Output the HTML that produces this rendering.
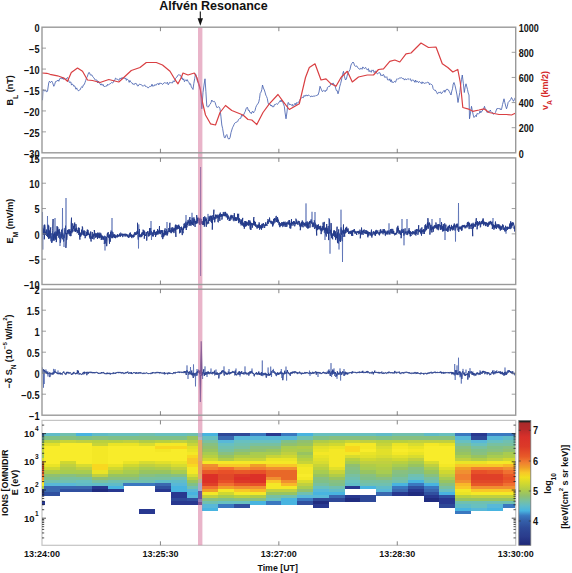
<!DOCTYPE html>
<html><head><meta charset="utf-8"><style>
html,body{margin:0;padding:0;background:#fff;width:572px;height:573px;overflow:hidden}
svg{display:block}
</style></head><body><svg width="572" height="573" viewBox="0 0 572 573" font-family='"Liberation Sans", sans-serif'><rect x="42.0" y="420.4" width="473.70000000000005" height="124.89999999999998" fill="none" stroke="#c4c4c4" stroke-width="1.2"/><g shape-rendering="crispEdges"><rect x="42.20" y="433.40" width="2.40" height="3.39" fill="#3a78c0"/><rect x="42.20" y="436.49" width="2.40" height="3.39" fill="#70c0b0"/><rect x="42.20" y="439.58" width="2.40" height="3.39" fill="#88c080"/><rect x="42.20" y="442.67" width="2.40" height="3.39" fill="#b0cc48"/><rect x="42.20" y="445.76" width="2.40" height="3.39" fill="#b8d040"/><rect x="42.20" y="448.85" width="2.40" height="3.39" fill="#c0d040"/><rect x="42.20" y="451.94" width="2.40" height="3.39" fill="#b0cc48"/><rect x="42.20" y="455.03" width="2.40" height="3.39" fill="#98c460"/><rect x="42.20" y="458.12" width="2.40" height="3.39" fill="#d8dc30"/><rect x="42.20" y="461.21" width="2.40" height="3.39" fill="#f09030"/><rect x="42.20" y="464.30" width="2.40" height="3.39" fill="#e86828"/><rect x="42.20" y="467.39" width="2.40" height="3.39" fill="#e85828"/><rect x="42.20" y="470.48" width="2.40" height="3.39" fill="#e85828"/><rect x="42.20" y="473.57" width="2.40" height="3.39" fill="#e86828"/><rect x="42.20" y="476.66" width="2.40" height="3.39" fill="#f09030"/><rect x="42.20" y="479.75" width="2.40" height="3.39" fill="#f8c828"/><rect x="42.20" y="482.84" width="2.40" height="3.39" fill="#f4e826"/><rect x="42.20" y="485.93" width="2.40" height="3.39" fill="#b0cc48"/><rect x="42.20" y="489.02" width="2.40" height="3.39" fill="#283890"/><rect x="42.20" y="492.11" width="2.40" height="3.39" fill="#283890"/><rect x="42.20" y="501.38" width="2.40" height="3.39" fill="#283890"/><rect x="44.30" y="433.40" width="16.10" height="3.39" fill="#60bcc8"/><rect x="44.30" y="436.49" width="16.10" height="3.39" fill="#80c088"/><rect x="44.30" y="439.58" width="16.10" height="3.39" fill="#b8d040"/><rect x="44.30" y="442.67" width="16.10" height="3.39" fill="#e2e02a"/><rect x="44.30" y="445.76" width="16.10" height="3.39" fill="#f8ec2a"/><rect x="44.30" y="448.85" width="16.10" height="3.39" fill="#f8ec2a"/><rect x="44.30" y="451.94" width="16.10" height="3.39" fill="#f8ec2a"/><rect x="44.30" y="455.03" width="16.10" height="3.39" fill="#f8ec2a"/><rect x="44.30" y="458.12" width="16.10" height="3.39" fill="#f8ec2a"/><rect x="44.30" y="461.21" width="16.10" height="3.39" fill="#f8ec2a"/><rect x="44.30" y="464.30" width="16.10" height="3.39" fill="#eae426"/><rect x="44.30" y="467.39" width="16.10" height="3.39" fill="#d0d830"/><rect x="44.30" y="470.48" width="16.10" height="3.39" fill="#b0cc48"/><rect x="44.30" y="473.57" width="16.10" height="3.39" fill="#90c070"/><rect x="44.30" y="476.66" width="16.10" height="3.39" fill="#80c088"/><rect x="44.30" y="479.75" width="16.10" height="3.39" fill="#70c0b0"/><rect x="44.30" y="482.84" width="16.10" height="3.39" fill="#58b8d8"/><rect x="44.30" y="485.93" width="16.10" height="3.39" fill="#3a68b0"/><rect x="44.30" y="489.02" width="16.10" height="3.39" fill="#3a68b0"/><rect x="44.30" y="492.11" width="16.10" height="3.39" fill="#3050a0"/><rect x="60.10" y="433.40" width="16.10" height="3.39" fill="#70c0b0"/><rect x="60.10" y="436.49" width="16.10" height="3.39" fill="#88c080"/><rect x="60.10" y="439.58" width="16.10" height="3.39" fill="#c8d438"/><rect x="60.10" y="442.67" width="16.10" height="3.39" fill="#f8ec2a"/><rect x="60.10" y="445.76" width="16.10" height="3.39" fill="#f8ec2a"/><rect x="60.10" y="448.85" width="16.10" height="3.39" fill="#f8ec2a"/><rect x="60.10" y="451.94" width="16.10" height="3.39" fill="#f8ec2a"/><rect x="60.10" y="455.03" width="16.10" height="3.39" fill="#f8ec2a"/><rect x="60.10" y="458.12" width="16.10" height="3.39" fill="#f8ec2a"/><rect x="60.10" y="461.21" width="16.10" height="3.39" fill="#d0d830"/><rect x="60.10" y="464.30" width="16.10" height="3.39" fill="#c0d040"/><rect x="60.10" y="467.39" width="16.10" height="3.39" fill="#b0cc48"/><rect x="60.10" y="470.48" width="16.10" height="3.39" fill="#a8cc50"/><rect x="60.10" y="473.57" width="16.10" height="3.39" fill="#88c080"/><rect x="60.10" y="476.66" width="16.10" height="3.39" fill="#78c0a0"/><rect x="60.10" y="479.75" width="16.10" height="3.39" fill="#70c0b0"/><rect x="60.10" y="482.84" width="16.10" height="3.39" fill="#58b8d8"/><rect x="60.10" y="485.93" width="16.10" height="3.39" fill="#3a68b0"/><rect x="60.10" y="489.02" width="16.10" height="3.39" fill="#3050a0"/><rect x="75.90" y="433.40" width="16.10" height="3.39" fill="#48b4e0"/><rect x="75.90" y="436.49" width="16.10" height="3.39" fill="#80c088"/><rect x="75.90" y="439.58" width="16.10" height="3.39" fill="#c0d040"/><rect x="75.90" y="442.67" width="16.10" height="3.39" fill="#f8ec2a"/><rect x="75.90" y="445.76" width="16.10" height="3.39" fill="#f8ec2a"/><rect x="75.90" y="448.85" width="16.10" height="3.39" fill="#f8ec2a"/><rect x="75.90" y="451.94" width="16.10" height="3.39" fill="#f8ec2a"/><rect x="75.90" y="455.03" width="16.10" height="3.39" fill="#f8ec2a"/><rect x="75.90" y="458.12" width="16.10" height="3.39" fill="#f8ec2a"/><rect x="75.90" y="461.21" width="16.10" height="3.39" fill="#f8ec2a"/><rect x="75.90" y="464.30" width="16.10" height="3.39" fill="#d8dc30"/><rect x="75.90" y="467.39" width="16.10" height="3.39" fill="#c0d040"/><rect x="75.90" y="470.48" width="16.10" height="3.39" fill="#a8cc50"/><rect x="75.90" y="473.57" width="16.10" height="3.39" fill="#90c070"/><rect x="75.90" y="476.66" width="16.10" height="3.39" fill="#78c0a0"/><rect x="75.90" y="479.75" width="16.10" height="3.39" fill="#68c0c0"/><rect x="75.90" y="482.84" width="16.10" height="3.39" fill="#60bcc8"/><rect x="75.90" y="485.93" width="16.10" height="3.39" fill="#3a68b0"/><rect x="75.90" y="489.02" width="16.10" height="3.39" fill="#3050a0"/><rect x="91.70" y="433.40" width="16.10" height="3.39" fill="#60bcc8"/><rect x="91.70" y="436.49" width="16.10" height="3.39" fill="#88c080"/><rect x="91.70" y="439.58" width="16.10" height="3.39" fill="#b8d040"/><rect x="91.70" y="442.67" width="16.10" height="3.39" fill="#c8d438"/><rect x="91.70" y="445.76" width="16.10" height="3.39" fill="#f4e826"/><rect x="91.70" y="448.85" width="16.10" height="3.39" fill="#f4e826"/><rect x="91.70" y="451.94" width="16.10" height="3.39" fill="#f4e826"/><rect x="91.70" y="455.03" width="16.10" height="3.39" fill="#f4e826"/><rect x="91.70" y="458.12" width="16.10" height="3.39" fill="#f4e826"/><rect x="91.70" y="461.21" width="16.10" height="3.39" fill="#f4e826"/><rect x="91.70" y="464.30" width="16.10" height="3.39" fill="#f8d820"/><rect x="91.70" y="467.39" width="16.10" height="3.39" fill="#f8d820"/><rect x="91.70" y="470.48" width="16.10" height="3.39" fill="#eae426"/><rect x="91.70" y="473.57" width="16.10" height="3.39" fill="#c0d040"/><rect x="91.70" y="476.66" width="16.10" height="3.39" fill="#90c070"/><rect x="91.70" y="479.75" width="16.10" height="3.39" fill="#78c0a0"/><rect x="91.70" y="482.84" width="16.10" height="3.39" fill="#60bcc8"/><rect x="91.70" y="485.93" width="16.10" height="3.39" fill="#283890"/><rect x="91.70" y="489.02" width="16.10" height="3.39" fill="#202c80"/><rect x="107.50" y="433.40" width="16.10" height="3.39" fill="#68c0c0"/><rect x="107.50" y="436.49" width="16.10" height="3.39" fill="#80c088"/><rect x="107.50" y="439.58" width="16.10" height="3.39" fill="#b8d040"/><rect x="107.50" y="442.67" width="16.10" height="3.39" fill="#eae426"/><rect x="107.50" y="445.76" width="16.10" height="3.39" fill="#f8ec2a"/><rect x="107.50" y="448.85" width="16.10" height="3.39" fill="#f8ec2a"/><rect x="107.50" y="451.94" width="16.10" height="3.39" fill="#f8ec2a"/><rect x="107.50" y="455.03" width="16.10" height="3.39" fill="#f8ec2a"/><rect x="107.50" y="458.12" width="16.10" height="3.39" fill="#f8ec2a"/><rect x="107.50" y="461.21" width="16.10" height="3.39" fill="#f8ec2a"/><rect x="107.50" y="464.30" width="16.10" height="3.39" fill="#eae426"/><rect x="107.50" y="467.39" width="16.10" height="3.39" fill="#d0d830"/><rect x="107.50" y="470.48" width="16.10" height="3.39" fill="#b8d040"/><rect x="107.50" y="473.57" width="16.10" height="3.39" fill="#98c460"/><rect x="107.50" y="476.66" width="16.10" height="3.39" fill="#88c080"/><rect x="107.50" y="479.75" width="16.10" height="3.39" fill="#70c0b0"/><rect x="107.50" y="482.84" width="16.10" height="3.39" fill="#60bcc8"/><rect x="107.50" y="485.93" width="16.10" height="3.39" fill="#48b4e0"/><rect x="107.50" y="489.02" width="16.10" height="3.39" fill="#283890"/><rect x="123.30" y="433.40" width="16.10" height="3.39" fill="#68c0c0"/><rect x="123.30" y="436.49" width="16.10" height="3.39" fill="#80c088"/><rect x="123.30" y="439.58" width="16.10" height="3.39" fill="#c0d040"/><rect x="123.30" y="442.67" width="16.10" height="3.39" fill="#eae426"/><rect x="123.30" y="445.76" width="16.10" height="3.39" fill="#f8ec2a"/><rect x="123.30" y="448.85" width="16.10" height="3.39" fill="#f8ec2a"/><rect x="123.30" y="451.94" width="16.10" height="3.39" fill="#f8ec2a"/><rect x="123.30" y="455.03" width="16.10" height="3.39" fill="#f8ec2a"/><rect x="123.30" y="458.12" width="16.10" height="3.39" fill="#f8ec2a"/><rect x="123.30" y="461.21" width="16.10" height="3.39" fill="#eae426"/><rect x="123.30" y="464.30" width="16.10" height="3.39" fill="#d0d830"/><rect x="123.30" y="467.39" width="16.10" height="3.39" fill="#b8d040"/><rect x="123.30" y="470.48" width="16.10" height="3.39" fill="#a8cc50"/><rect x="123.30" y="473.57" width="16.10" height="3.39" fill="#98c460"/><rect x="123.30" y="476.66" width="16.10" height="3.39" fill="#88c080"/><rect x="123.30" y="479.75" width="16.10" height="3.39" fill="#70c0b0"/><rect x="123.30" y="482.84" width="16.10" height="3.39" fill="#3a78c0"/><rect x="139.10" y="433.40" width="16.10" height="3.39" fill="#70c0b0"/><rect x="139.10" y="436.49" width="16.10" height="3.39" fill="#80c088"/><rect x="139.10" y="439.58" width="16.10" height="3.39" fill="#b0cc48"/><rect x="139.10" y="442.67" width="16.10" height="3.39" fill="#d8dc30"/><rect x="139.10" y="445.76" width="16.10" height="3.39" fill="#f8ec2a"/><rect x="139.10" y="448.85" width="16.10" height="3.39" fill="#f8ec2a"/><rect x="139.10" y="451.94" width="16.10" height="3.39" fill="#f8ec2a"/><rect x="139.10" y="455.03" width="16.10" height="3.39" fill="#f8ec2a"/><rect x="139.10" y="458.12" width="16.10" height="3.39" fill="#f8ec2a"/><rect x="139.10" y="461.21" width="16.10" height="3.39" fill="#d8dc30"/><rect x="139.10" y="464.30" width="16.10" height="3.39" fill="#c0d040"/><rect x="139.10" y="467.39" width="16.10" height="3.39" fill="#a8cc50"/><rect x="139.10" y="470.48" width="16.10" height="3.39" fill="#98c460"/><rect x="139.10" y="473.57" width="16.10" height="3.39" fill="#88c080"/><rect x="139.10" y="476.66" width="16.10" height="3.39" fill="#78c0a0"/><rect x="139.10" y="479.75" width="16.10" height="3.39" fill="#70c0b0"/><rect x="139.10" y="482.84" width="16.10" height="3.39" fill="#3a78c0"/><rect x="154.90" y="433.40" width="16.10" height="3.39" fill="#68c0c0"/><rect x="154.90" y="436.49" width="16.10" height="3.39" fill="#80c088"/><rect x="154.90" y="439.58" width="16.10" height="3.39" fill="#b8d040"/><rect x="154.90" y="442.67" width="16.10" height="3.39" fill="#f4e826"/><rect x="154.90" y="445.76" width="16.10" height="3.39" fill="#f8d820"/><rect x="154.90" y="448.85" width="16.10" height="3.39" fill="#f4e826"/><rect x="154.90" y="451.94" width="16.10" height="3.39" fill="#f8ec2a"/><rect x="154.90" y="455.03" width="16.10" height="3.39" fill="#f8ec2a"/><rect x="154.90" y="458.12" width="16.10" height="3.39" fill="#f8ec2a"/><rect x="154.90" y="461.21" width="16.10" height="3.39" fill="#e2e02a"/><rect x="154.90" y="464.30" width="16.10" height="3.39" fill="#c8d438"/><rect x="154.90" y="467.39" width="16.10" height="3.39" fill="#b0cc48"/><rect x="154.90" y="470.48" width="16.10" height="3.39" fill="#98c460"/><rect x="154.90" y="473.57" width="16.10" height="3.39" fill="#80c088"/><rect x="154.90" y="476.66" width="16.10" height="3.39" fill="#78c0a0"/><rect x="154.90" y="479.75" width="16.10" height="3.39" fill="#60bcc8"/><rect x="154.90" y="482.84" width="16.10" height="3.39" fill="#3a68b0"/><rect x="154.90" y="485.93" width="16.10" height="3.39" fill="#3050a0"/><rect x="154.90" y="489.02" width="16.10" height="3.39" fill="#283890"/><rect x="170.70" y="433.40" width="16.10" height="3.39" fill="#68c0c0"/><rect x="170.70" y="436.49" width="16.10" height="3.39" fill="#80c088"/><rect x="170.70" y="439.58" width="16.10" height="3.39" fill="#c0d040"/><rect x="170.70" y="442.67" width="16.10" height="3.39" fill="#f4e826"/><rect x="170.70" y="445.76" width="16.10" height="3.39" fill="#f8d820"/><rect x="170.70" y="448.85" width="16.10" height="3.39" fill="#f8ec2a"/><rect x="170.70" y="451.94" width="16.10" height="3.39" fill="#f8ec2a"/><rect x="170.70" y="455.03" width="16.10" height="3.39" fill="#f8ec2a"/><rect x="170.70" y="458.12" width="16.10" height="3.39" fill="#f8ec2a"/><rect x="170.70" y="461.21" width="16.10" height="3.39" fill="#eae426"/><rect x="170.70" y="464.30" width="16.10" height="3.39" fill="#d8dc30"/><rect x="170.70" y="467.39" width="16.10" height="3.39" fill="#c0d040"/><rect x="170.70" y="470.48" width="16.10" height="3.39" fill="#a8cc50"/><rect x="170.70" y="473.57" width="16.10" height="3.39" fill="#88c080"/><rect x="170.70" y="476.66" width="16.10" height="3.39" fill="#70c0b0"/><rect x="170.70" y="479.75" width="16.10" height="3.39" fill="#60bcc8"/><rect x="170.70" y="482.84" width="16.10" height="3.39" fill="#58b8d8"/><rect x="170.70" y="485.93" width="16.10" height="3.39" fill="#48b4e0"/><rect x="170.70" y="489.02" width="16.10" height="3.39" fill="#48b4e0"/><rect x="170.70" y="492.11" width="16.10" height="3.39" fill="#283890"/><rect x="170.70" y="495.20" width="16.10" height="3.39" fill="#283890"/><rect x="170.70" y="498.29" width="16.10" height="3.39" fill="#2e4898"/><rect x="170.70" y="501.38" width="16.10" height="3.39" fill="#283890"/><rect x="186.50" y="433.40" width="16.10" height="3.39" fill="#70c0b0"/><rect x="186.50" y="436.49" width="16.10" height="3.39" fill="#98c460"/><rect x="186.50" y="439.58" width="16.10" height="3.39" fill="#b0cc48"/><rect x="186.50" y="442.67" width="16.10" height="3.39" fill="#c8d438"/><rect x="186.50" y="445.76" width="16.10" height="3.39" fill="#e2e02a"/><rect x="186.50" y="448.85" width="16.10" height="3.39" fill="#eae426"/><rect x="186.50" y="451.94" width="16.10" height="3.39" fill="#f4e826"/><rect x="186.50" y="455.03" width="16.10" height="3.39" fill="#f8d820"/><rect x="186.50" y="458.12" width="16.10" height="3.39" fill="#f8c828"/><rect x="186.50" y="461.21" width="16.10" height="3.39" fill="#f8c828"/><rect x="186.50" y="464.30" width="16.10" height="3.39" fill="#f8d820"/><rect x="186.50" y="467.39" width="16.10" height="3.39" fill="#f4e826"/><rect x="186.50" y="470.48" width="16.10" height="3.39" fill="#f4e826"/><rect x="186.50" y="473.57" width="16.10" height="3.39" fill="#d8dc30"/><rect x="186.50" y="476.66" width="16.10" height="3.39" fill="#b8d040"/><rect x="186.50" y="479.75" width="16.10" height="3.39" fill="#98c460"/><rect x="186.50" y="482.84" width="16.10" height="3.39" fill="#80c088"/><rect x="186.50" y="485.93" width="16.10" height="3.39" fill="#70c0b0"/><rect x="186.50" y="489.02" width="16.10" height="3.39" fill="#58b8d8"/><rect x="186.50" y="492.11" width="16.10" height="3.39" fill="#48b4e0"/><rect x="186.50" y="495.20" width="16.10" height="3.39" fill="#58b8d8"/><rect x="186.50" y="498.29" width="16.10" height="3.39" fill="#3050a0"/><rect x="186.50" y="501.38" width="16.10" height="3.39" fill="#283890"/><rect x="202.30" y="433.40" width="16.10" height="3.39" fill="#48b4e0"/><rect x="202.30" y="436.49" width="16.10" height="3.39" fill="#68c0c0"/><rect x="202.30" y="439.58" width="16.10" height="3.39" fill="#78c0a0"/><rect x="202.30" y="442.67" width="16.10" height="3.39" fill="#88c080"/><rect x="202.30" y="445.76" width="16.10" height="3.39" fill="#90c070"/><rect x="202.30" y="448.85" width="16.10" height="3.39" fill="#98c460"/><rect x="202.30" y="451.94" width="16.10" height="3.39" fill="#a8cc50"/><rect x="202.30" y="455.03" width="16.10" height="3.39" fill="#b8d040"/><rect x="202.30" y="458.12" width="16.10" height="3.39" fill="#d0d830"/><rect x="202.30" y="461.21" width="16.10" height="3.39" fill="#f4e826"/><rect x="202.30" y="464.30" width="16.10" height="3.39" fill="#f09030"/><rect x="202.30" y="467.39" width="16.10" height="3.39" fill="#f08030"/><rect x="202.30" y="470.48" width="16.10" height="3.39" fill="#e85828"/><rect x="202.30" y="473.57" width="16.10" height="3.39" fill="#dc3028"/><rect x="202.30" y="476.66" width="16.10" height="3.39" fill="#dc3028"/><rect x="202.30" y="479.75" width="16.10" height="3.39" fill="#dc3028"/><rect x="202.30" y="482.84" width="16.10" height="3.39" fill="#e04028"/><rect x="202.30" y="485.93" width="16.10" height="3.39" fill="#f07030"/><rect x="202.30" y="489.02" width="16.10" height="3.39" fill="#f0a028"/><rect x="202.30" y="492.11" width="16.10" height="3.39" fill="#f4e826"/><rect x="202.30" y="495.20" width="16.10" height="3.39" fill="#c0d040"/><rect x="202.30" y="498.29" width="16.10" height="3.39" fill="#88c080"/><rect x="202.30" y="501.38" width="16.10" height="3.39" fill="#70c0b0"/><rect x="202.30" y="504.47" width="16.10" height="3.39" fill="#58b8d8"/><rect x="202.30" y="507.56" width="16.10" height="3.39" fill="#48b4e0"/><rect x="218.10" y="433.40" width="16.10" height="3.39" fill="#2e4898"/><rect x="218.10" y="436.49" width="16.10" height="3.39" fill="#3a68b0"/><rect x="218.10" y="439.58" width="16.10" height="3.39" fill="#58b8d8"/><rect x="218.10" y="442.67" width="16.10" height="3.39" fill="#68c0c0"/><rect x="218.10" y="445.76" width="16.10" height="3.39" fill="#70c0b0"/><rect x="218.10" y="448.85" width="16.10" height="3.39" fill="#78c0a0"/><rect x="218.10" y="451.94" width="16.10" height="3.39" fill="#88c080"/><rect x="218.10" y="455.03" width="16.10" height="3.39" fill="#98c460"/><rect x="218.10" y="458.12" width="16.10" height="3.39" fill="#b0cc48"/><rect x="218.10" y="461.21" width="16.10" height="3.39" fill="#f4e826"/><rect x="218.10" y="464.30" width="16.10" height="3.39" fill="#f8c828"/><rect x="218.10" y="467.39" width="16.10" height="3.39" fill="#f07030"/><rect x="218.10" y="470.48" width="16.10" height="3.39" fill="#e85028"/><rect x="218.10" y="473.57" width="16.10" height="3.39" fill="#e04828"/><rect x="218.10" y="476.66" width="16.10" height="3.39" fill="#e04828"/><rect x="218.10" y="479.75" width="16.10" height="3.39" fill="#e85028"/><rect x="218.10" y="482.84" width="16.10" height="3.39" fill="#f07030"/><rect x="218.10" y="485.93" width="16.10" height="3.39" fill="#f0a028"/><rect x="218.10" y="489.02" width="16.10" height="3.39" fill="#f4e826"/><rect x="218.10" y="492.11" width="16.10" height="3.39" fill="#d0d830"/><rect x="218.10" y="495.20" width="16.10" height="3.39" fill="#a8cc50"/><rect x="218.10" y="498.29" width="16.10" height="3.39" fill="#80c088"/><rect x="218.10" y="501.38" width="16.10" height="3.39" fill="#68c0c0"/><rect x="218.10" y="504.47" width="16.10" height="3.39" fill="#3a78c0"/><rect x="233.90" y="433.40" width="16.10" height="3.39" fill="#2e4898"/><rect x="233.90" y="436.49" width="16.10" height="3.39" fill="#58b8d8"/><rect x="233.90" y="439.58" width="16.10" height="3.39" fill="#68c0c0"/><rect x="233.90" y="442.67" width="16.10" height="3.39" fill="#70c0b0"/><rect x="233.90" y="445.76" width="16.10" height="3.39" fill="#78c0a0"/><rect x="233.90" y="448.85" width="16.10" height="3.39" fill="#88c080"/><rect x="233.90" y="451.94" width="16.10" height="3.39" fill="#98c460"/><rect x="233.90" y="455.03" width="16.10" height="3.39" fill="#b0cc48"/><rect x="233.90" y="458.12" width="16.10" height="3.39" fill="#c8d438"/><rect x="233.90" y="461.21" width="16.10" height="3.39" fill="#f4e826"/><rect x="233.90" y="464.30" width="16.10" height="3.39" fill="#f8c828"/><rect x="233.90" y="467.39" width="16.10" height="3.39" fill="#f09030"/><rect x="233.90" y="470.48" width="16.10" height="3.39" fill="#e85828"/><rect x="233.90" y="473.57" width="16.10" height="3.39" fill="#dc3828"/><rect x="233.90" y="476.66" width="16.10" height="3.39" fill="#dc3028"/><rect x="233.90" y="479.75" width="16.10" height="3.39" fill="#dc3828"/><rect x="233.90" y="482.84" width="16.10" height="3.39" fill="#e85828"/><rect x="233.90" y="485.93" width="16.10" height="3.39" fill="#f09030"/><rect x="233.90" y="489.02" width="16.10" height="3.39" fill="#f8c828"/><rect x="233.90" y="492.11" width="16.10" height="3.39" fill="#f4e826"/><rect x="233.90" y="495.20" width="16.10" height="3.39" fill="#b8d040"/><rect x="233.90" y="498.29" width="16.10" height="3.39" fill="#88c080"/><rect x="233.90" y="501.38" width="16.10" height="3.39" fill="#68c0c0"/><rect x="233.90" y="504.47" width="16.10" height="3.39" fill="#3050a0"/><rect x="249.70" y="433.40" width="16.10" height="3.39" fill="#3a78c0"/><rect x="249.70" y="436.49" width="16.10" height="3.39" fill="#58b8d8"/><rect x="249.70" y="439.58" width="16.10" height="3.39" fill="#68c0c0"/><rect x="249.70" y="442.67" width="16.10" height="3.39" fill="#78c0a0"/><rect x="249.70" y="445.76" width="16.10" height="3.39" fill="#88c080"/><rect x="249.70" y="448.85" width="16.10" height="3.39" fill="#90c070"/><rect x="249.70" y="451.94" width="16.10" height="3.39" fill="#a8cc50"/><rect x="249.70" y="455.03" width="16.10" height="3.39" fill="#b0cc48"/><rect x="249.70" y="458.12" width="16.10" height="3.39" fill="#c8d438"/><rect x="249.70" y="461.21" width="16.10" height="3.39" fill="#f4e826"/><rect x="249.70" y="464.30" width="16.10" height="3.39" fill="#f0a028"/><rect x="249.70" y="467.39" width="16.10" height="3.39" fill="#f08030"/><rect x="249.70" y="470.48" width="16.10" height="3.39" fill="#e85028"/><rect x="249.70" y="473.57" width="16.10" height="3.39" fill="#dc3028"/><rect x="249.70" y="476.66" width="16.10" height="3.39" fill="#dc3028"/><rect x="249.70" y="479.75" width="16.10" height="3.39" fill="#dc3028"/><rect x="249.70" y="482.84" width="16.10" height="3.39" fill="#e85028"/><rect x="249.70" y="485.93" width="16.10" height="3.39" fill="#f09030"/><rect x="249.70" y="489.02" width="16.10" height="3.39" fill="#f8b828"/><rect x="249.70" y="492.11" width="16.10" height="3.39" fill="#f4e826"/><rect x="249.70" y="495.20" width="16.10" height="3.39" fill="#b0cc48"/><rect x="249.70" y="498.29" width="16.10" height="3.39" fill="#88c080"/><rect x="249.70" y="501.38" width="16.10" height="3.39" fill="#48b4e0"/><rect x="265.50" y="433.40" width="16.10" height="3.39" fill="#283890"/><rect x="265.50" y="436.49" width="16.10" height="3.39" fill="#58b8d8"/><rect x="265.50" y="439.58" width="16.10" height="3.39" fill="#68c0c0"/><rect x="265.50" y="442.67" width="16.10" height="3.39" fill="#78c0a0"/><rect x="265.50" y="445.76" width="16.10" height="3.39" fill="#88c080"/><rect x="265.50" y="448.85" width="16.10" height="3.39" fill="#98c460"/><rect x="265.50" y="451.94" width="16.10" height="3.39" fill="#a8cc50"/><rect x="265.50" y="455.03" width="16.10" height="3.39" fill="#c8d438"/><rect x="265.50" y="458.12" width="16.10" height="3.39" fill="#eae426"/><rect x="265.50" y="461.21" width="16.10" height="3.39" fill="#f4e826"/><rect x="265.50" y="464.30" width="16.10" height="3.39" fill="#f8c828"/><rect x="265.50" y="467.39" width="16.10" height="3.39" fill="#f09030"/><rect x="265.50" y="470.48" width="16.10" height="3.39" fill="#e86828"/><rect x="265.50" y="473.57" width="16.10" height="3.39" fill="#e86828"/><rect x="265.50" y="476.66" width="16.10" height="3.39" fill="#f09030"/><rect x="265.50" y="479.75" width="16.10" height="3.39" fill="#f8c828"/><rect x="265.50" y="482.84" width="16.10" height="3.39" fill="#f4e826"/><rect x="265.50" y="485.93" width="16.10" height="3.39" fill="#f4e826"/><rect x="265.50" y="489.02" width="16.10" height="3.39" fill="#c0d040"/><rect x="265.50" y="492.11" width="16.10" height="3.39" fill="#98c460"/><rect x="265.50" y="495.20" width="16.10" height="3.39" fill="#78c0a0"/><rect x="265.50" y="498.29" width="16.10" height="3.39" fill="#68c0c0"/><rect x="265.50" y="501.38" width="16.10" height="3.39" fill="#3a78c0"/><rect x="281.30" y="433.40" width="16.10" height="3.39" fill="#3a78c0"/><rect x="281.30" y="436.49" width="16.10" height="3.39" fill="#58b8d8"/><rect x="281.30" y="439.58" width="16.10" height="3.39" fill="#80c088"/><rect x="281.30" y="442.67" width="16.10" height="3.39" fill="#90c070"/><rect x="281.30" y="445.76" width="16.10" height="3.39" fill="#a8cc50"/><rect x="281.30" y="448.85" width="16.10" height="3.39" fill="#b0cc48"/><rect x="281.30" y="451.94" width="16.10" height="3.39" fill="#c0d040"/><rect x="281.30" y="455.03" width="16.10" height="3.39" fill="#d0d830"/><rect x="281.30" y="458.12" width="16.10" height="3.39" fill="#eae426"/><rect x="281.30" y="461.21" width="16.10" height="3.39" fill="#f4e826"/><rect x="281.30" y="464.30" width="16.10" height="3.39" fill="#f8c828"/><rect x="281.30" y="467.39" width="16.10" height="3.39" fill="#f09030"/><rect x="281.30" y="470.48" width="16.10" height="3.39" fill="#e86828"/><rect x="281.30" y="473.57" width="16.10" height="3.39" fill="#e86828"/><rect x="281.30" y="476.66" width="16.10" height="3.39" fill="#e86828"/><rect x="281.30" y="479.75" width="16.10" height="3.39" fill="#f09030"/><rect x="281.30" y="482.84" width="16.10" height="3.39" fill="#f8b828"/><rect x="281.30" y="485.93" width="16.10" height="3.39" fill="#f4e826"/><rect x="281.30" y="489.02" width="16.10" height="3.39" fill="#c0d040"/><rect x="281.30" y="492.11" width="16.10" height="3.39" fill="#98c460"/><rect x="281.30" y="495.20" width="16.10" height="3.39" fill="#70c0b0"/><rect x="281.30" y="498.29" width="16.10" height="3.39" fill="#48b4e0"/><rect x="281.30" y="501.38" width="16.10" height="3.39" fill="#48b4e0"/><rect x="297.10" y="433.40" width="16.10" height="3.39" fill="#48b4e0"/><rect x="297.10" y="436.49" width="16.10" height="3.39" fill="#70c0b0"/><rect x="297.10" y="439.58" width="16.10" height="3.39" fill="#90c070"/><rect x="297.10" y="442.67" width="16.10" height="3.39" fill="#98c460"/><rect x="297.10" y="445.76" width="16.10" height="3.39" fill="#b0cc48"/><rect x="297.10" y="448.85" width="16.10" height="3.39" fill="#a8cc50"/><rect x="297.10" y="451.94" width="16.10" height="3.39" fill="#98c460"/><rect x="297.10" y="455.03" width="16.10" height="3.39" fill="#a8cc50"/><rect x="297.10" y="458.12" width="16.10" height="3.39" fill="#b8d040"/><rect x="297.10" y="461.21" width="16.10" height="3.39" fill="#c8d438"/><rect x="297.10" y="464.30" width="16.10" height="3.39" fill="#eae426"/><rect x="297.10" y="467.39" width="16.10" height="3.39" fill="#f4e826"/><rect x="297.10" y="470.48" width="16.10" height="3.39" fill="#f4e826"/><rect x="297.10" y="473.57" width="16.10" height="3.39" fill="#f8ec2a"/><rect x="297.10" y="476.66" width="16.10" height="3.39" fill="#f4e826"/><rect x="297.10" y="479.75" width="16.10" height="3.39" fill="#d8dc30"/><rect x="297.10" y="482.84" width="16.10" height="3.39" fill="#c0d040"/><rect x="297.10" y="485.93" width="16.10" height="3.39" fill="#a8cc50"/><rect x="297.10" y="489.02" width="16.10" height="3.39" fill="#90c070"/><rect x="297.10" y="492.11" width="16.10" height="3.39" fill="#70c0b0"/><rect x="297.10" y="495.20" width="16.10" height="3.39" fill="#58b8d8"/><rect x="297.10" y="498.29" width="16.10" height="3.39" fill="#3a78c0"/><rect x="297.10" y="501.38" width="16.10" height="3.39" fill="#3050a0"/><rect x="312.90" y="433.40" width="16.10" height="3.39" fill="#68c0c0"/><rect x="312.90" y="436.49" width="16.10" height="3.39" fill="#80c088"/><rect x="312.90" y="439.58" width="16.10" height="3.39" fill="#b0cc48"/><rect x="312.90" y="442.67" width="16.10" height="3.39" fill="#c8d438"/><rect x="312.90" y="445.76" width="16.10" height="3.39" fill="#e2e02a"/><rect x="312.90" y="448.85" width="16.10" height="3.39" fill="#eae426"/><rect x="312.90" y="451.94" width="16.10" height="3.39" fill="#f4e826"/><rect x="312.90" y="455.03" width="16.10" height="3.39" fill="#eae426"/><rect x="312.90" y="458.12" width="16.10" height="3.39" fill="#e2e02a"/><rect x="312.90" y="461.21" width="16.10" height="3.39" fill="#d8dc30"/><rect x="312.90" y="464.30" width="16.10" height="3.39" fill="#c8d438"/><rect x="312.90" y="467.39" width="16.10" height="3.39" fill="#b8d040"/><rect x="312.90" y="470.48" width="16.10" height="3.39" fill="#a8cc50"/><rect x="312.90" y="473.57" width="16.10" height="3.39" fill="#98c460"/><rect x="312.90" y="476.66" width="16.10" height="3.39" fill="#88c080"/><rect x="312.90" y="479.75" width="16.10" height="3.39" fill="#80c088"/><rect x="312.90" y="482.84" width="16.10" height="3.39" fill="#78c0a0"/><rect x="312.90" y="485.93" width="16.10" height="3.39" fill="#68c0c0"/><rect x="312.90" y="489.02" width="16.10" height="3.39" fill="#58b8d8"/><rect x="312.90" y="492.11" width="16.10" height="3.39" fill="#48b4e0"/><rect x="312.90" y="495.20" width="16.10" height="3.39" fill="#58b8d8"/><rect x="312.90" y="498.29" width="16.10" height="3.39" fill="#2e4898"/><rect x="312.90" y="501.38" width="16.10" height="3.39" fill="#202c80"/><rect x="312.90" y="504.47" width="16.10" height="3.39" fill="#283890"/><rect x="328.70" y="433.40" width="16.10" height="3.39" fill="#68c0c0"/><rect x="328.70" y="436.49" width="16.10" height="3.39" fill="#88c080"/><rect x="328.70" y="439.58" width="16.10" height="3.39" fill="#b8d040"/><rect x="328.70" y="442.67" width="16.10" height="3.39" fill="#d0d830"/><rect x="328.70" y="445.76" width="16.10" height="3.39" fill="#eae426"/><rect x="328.70" y="448.85" width="16.10" height="3.39" fill="#f4e826"/><rect x="328.70" y="451.94" width="16.10" height="3.39" fill="#f4e826"/><rect x="328.70" y="455.03" width="16.10" height="3.39" fill="#f4e826"/><rect x="328.70" y="458.12" width="16.10" height="3.39" fill="#f4e826"/><rect x="328.70" y="461.21" width="16.10" height="3.39" fill="#f4e826"/><rect x="328.70" y="464.30" width="16.10" height="3.39" fill="#f4e826"/><rect x="328.70" y="467.39" width="16.10" height="3.39" fill="#e2e02a"/><rect x="328.70" y="470.48" width="16.10" height="3.39" fill="#c8d438"/><rect x="328.70" y="473.57" width="16.10" height="3.39" fill="#b0cc48"/><rect x="328.70" y="476.66" width="16.10" height="3.39" fill="#98c460"/><rect x="328.70" y="479.75" width="16.10" height="3.39" fill="#88c080"/><rect x="328.70" y="482.84" width="16.10" height="3.39" fill="#80c088"/><rect x="328.70" y="485.93" width="16.10" height="3.39" fill="#70c0b0"/><rect x="328.70" y="489.02" width="16.10" height="3.39" fill="#60bcc8"/><rect x="328.70" y="492.11" width="16.10" height="3.39" fill="#48b4e0"/><rect x="328.70" y="495.20" width="16.10" height="3.39" fill="#3a68b0"/><rect x="328.70" y="498.29" width="16.10" height="3.39" fill="#2e4898"/><rect x="344.50" y="433.40" width="16.10" height="3.39" fill="#68c0c0"/><rect x="344.50" y="436.49" width="16.10" height="3.39" fill="#88c080"/><rect x="344.50" y="439.58" width="16.10" height="3.39" fill="#c8d438"/><rect x="344.50" y="442.67" width="16.10" height="3.39" fill="#f4e826"/><rect x="344.50" y="445.76" width="16.10" height="3.39" fill="#f8d820"/><rect x="344.50" y="448.85" width="16.10" height="3.39" fill="#f8d820"/><rect x="344.50" y="451.94" width="16.10" height="3.39" fill="#f4e826"/><rect x="344.50" y="455.03" width="16.10" height="3.39" fill="#d8dc30"/><rect x="344.50" y="458.12" width="16.10" height="3.39" fill="#b8d040"/><rect x="344.50" y="461.21" width="16.10" height="3.39" fill="#a8cc50"/><rect x="344.50" y="464.30" width="16.10" height="3.39" fill="#90c070"/><rect x="344.50" y="467.39" width="16.10" height="3.39" fill="#88c080"/><rect x="344.50" y="470.48" width="16.10" height="3.39" fill="#80c088"/><rect x="344.50" y="473.57" width="16.10" height="3.39" fill="#78c0a0"/><rect x="344.50" y="476.66" width="16.10" height="3.39" fill="#70c0b0"/><rect x="344.50" y="479.75" width="16.10" height="3.39" fill="#68c0c0"/><rect x="344.50" y="482.84" width="16.10" height="3.39" fill="#60bcc8"/><rect x="344.50" y="485.93" width="16.10" height="3.39" fill="#283890"/><rect x="344.50" y="495.20" width="16.10" height="3.39" fill="#283890"/><rect x="344.50" y="498.29" width="16.10" height="3.39" fill="#202c80"/><rect x="360.30" y="433.40" width="16.10" height="3.39" fill="#68c0c0"/><rect x="360.30" y="436.49" width="16.10" height="3.39" fill="#88c080"/><rect x="360.30" y="439.58" width="16.10" height="3.39" fill="#c0d040"/><rect x="360.30" y="442.67" width="16.10" height="3.39" fill="#f4e826"/><rect x="360.30" y="445.76" width="16.10" height="3.39" fill="#f4e826"/><rect x="360.30" y="448.85" width="16.10" height="3.39" fill="#f8ec2a"/><rect x="360.30" y="451.94" width="16.10" height="3.39" fill="#eae426"/><rect x="360.30" y="455.03" width="16.10" height="3.39" fill="#e2e02a"/><rect x="360.30" y="458.12" width="16.10" height="3.39" fill="#d0d830"/><rect x="360.30" y="461.21" width="16.10" height="3.39" fill="#c0d040"/><rect x="360.30" y="464.30" width="16.10" height="3.39" fill="#b0cc48"/><rect x="360.30" y="467.39" width="16.10" height="3.39" fill="#a8cc50"/><rect x="360.30" y="470.48" width="16.10" height="3.39" fill="#98c460"/><rect x="360.30" y="473.57" width="16.10" height="3.39" fill="#88c080"/><rect x="360.30" y="476.66" width="16.10" height="3.39" fill="#80c088"/><rect x="360.30" y="479.75" width="16.10" height="3.39" fill="#78c0a0"/><rect x="360.30" y="482.84" width="16.10" height="3.39" fill="#70c0b0"/><rect x="360.30" y="485.93" width="16.10" height="3.39" fill="#48b4e0"/><rect x="360.30" y="495.20" width="16.10" height="3.39" fill="#2e4898"/><rect x="360.30" y="498.29" width="16.10" height="3.39" fill="#2e4898"/><rect x="376.10" y="433.40" width="16.10" height="3.39" fill="#60bcc8"/><rect x="376.10" y="436.49" width="16.10" height="3.39" fill="#80c088"/><rect x="376.10" y="439.58" width="16.10" height="3.39" fill="#b8d040"/><rect x="376.10" y="442.67" width="16.10" height="3.39" fill="#c8d438"/><rect x="376.10" y="445.76" width="16.10" height="3.39" fill="#d8dc30"/><rect x="376.10" y="448.85" width="16.10" height="3.39" fill="#e2e02a"/><rect x="376.10" y="451.94" width="16.10" height="3.39" fill="#e2e02a"/><rect x="376.10" y="455.03" width="16.10" height="3.39" fill="#d8dc30"/><rect x="376.10" y="458.12" width="16.10" height="3.39" fill="#c8d438"/><rect x="376.10" y="461.21" width="16.10" height="3.39" fill="#c0d040"/><rect x="376.10" y="464.30" width="16.10" height="3.39" fill="#b8d040"/><rect x="376.10" y="467.39" width="16.10" height="3.39" fill="#b0cc48"/><rect x="376.10" y="470.48" width="16.10" height="3.39" fill="#a8cc50"/><rect x="376.10" y="473.57" width="16.10" height="3.39" fill="#98c460"/><rect x="376.10" y="476.66" width="16.10" height="3.39" fill="#88c080"/><rect x="376.10" y="479.75" width="16.10" height="3.39" fill="#78c0a0"/><rect x="376.10" y="482.84" width="16.10" height="3.39" fill="#70c0b0"/><rect x="376.10" y="485.93" width="16.10" height="3.39" fill="#60bcc8"/><rect x="376.10" y="489.02" width="16.10" height="3.39" fill="#58b8d8"/><rect x="376.10" y="492.11" width="16.10" height="3.39" fill="#3a68b0"/><rect x="391.90" y="433.40" width="16.10" height="3.39" fill="#70c0b0"/><rect x="391.90" y="436.49" width="16.10" height="3.39" fill="#88c080"/><rect x="391.90" y="439.58" width="16.10" height="3.39" fill="#b8d040"/><rect x="391.90" y="442.67" width="16.10" height="3.39" fill="#eae426"/><rect x="391.90" y="445.76" width="16.10" height="3.39" fill="#f4e826"/><rect x="391.90" y="448.85" width="16.10" height="3.39" fill="#f8ec2a"/><rect x="391.90" y="451.94" width="16.10" height="3.39" fill="#f4e826"/><rect x="391.90" y="455.03" width="16.10" height="3.39" fill="#e2e02a"/><rect x="391.90" y="458.12" width="16.10" height="3.39" fill="#d0d830"/><rect x="391.90" y="461.21" width="16.10" height="3.39" fill="#b8d040"/><rect x="391.90" y="464.30" width="16.10" height="3.39" fill="#a8cc50"/><rect x="391.90" y="467.39" width="16.10" height="3.39" fill="#98c460"/><rect x="391.90" y="470.48" width="16.10" height="3.39" fill="#88c080"/><rect x="391.90" y="473.57" width="16.10" height="3.39" fill="#80c088"/><rect x="391.90" y="476.66" width="16.10" height="3.39" fill="#78c0a0"/><rect x="391.90" y="479.75" width="16.10" height="3.39" fill="#70c0b0"/><rect x="391.90" y="482.84" width="16.10" height="3.39" fill="#48b4e0"/><rect x="391.90" y="485.93" width="16.10" height="3.39" fill="#3a78c0"/><rect x="391.90" y="489.02" width="16.10" height="3.39" fill="#3a68b0"/><rect x="391.90" y="492.11" width="16.10" height="3.39" fill="#283890"/><rect x="407.70" y="433.40" width="16.10" height="3.39" fill="#70c0b0"/><rect x="407.70" y="436.49" width="16.10" height="3.39" fill="#88c080"/><rect x="407.70" y="439.58" width="16.10" height="3.39" fill="#c0d040"/><rect x="407.70" y="442.67" width="16.10" height="3.39" fill="#d8dc30"/><rect x="407.70" y="445.76" width="16.10" height="3.39" fill="#eae426"/><rect x="407.70" y="448.85" width="16.10" height="3.39" fill="#f4e826"/><rect x="407.70" y="451.94" width="16.10" height="3.39" fill="#eae426"/><rect x="407.70" y="455.03" width="16.10" height="3.39" fill="#d8dc30"/><rect x="407.70" y="458.12" width="16.10" height="3.39" fill="#c0d040"/><rect x="407.70" y="461.21" width="16.10" height="3.39" fill="#a8cc50"/><rect x="407.70" y="464.30" width="16.10" height="3.39" fill="#98c460"/><rect x="407.70" y="467.39" width="16.10" height="3.39" fill="#88c080"/><rect x="407.70" y="470.48" width="16.10" height="3.39" fill="#80c088"/><rect x="407.70" y="473.57" width="16.10" height="3.39" fill="#70c0b0"/><rect x="407.70" y="476.66" width="16.10" height="3.39" fill="#68c0c0"/><rect x="407.70" y="479.75" width="16.10" height="3.39" fill="#48b4e0"/><rect x="407.70" y="482.84" width="16.10" height="3.39" fill="#3a78c0"/><rect x="407.70" y="485.93" width="16.10" height="3.39" fill="#3050a0"/><rect x="407.70" y="489.02" width="16.10" height="3.39" fill="#283890"/><rect x="407.70" y="492.11" width="16.10" height="3.39" fill="#202c80"/><rect x="423.50" y="433.40" width="16.10" height="3.39" fill="#60bcc8"/><rect x="423.50" y="436.49" width="16.10" height="3.39" fill="#88c080"/><rect x="423.50" y="439.58" width="16.10" height="3.39" fill="#c0d040"/><rect x="423.50" y="442.67" width="16.10" height="3.39" fill="#f4e826"/><rect x="423.50" y="445.76" width="16.10" height="3.39" fill="#f8ec2a"/><rect x="423.50" y="448.85" width="16.10" height="3.39" fill="#f8ec2a"/><rect x="423.50" y="451.94" width="16.10" height="3.39" fill="#f8ec2a"/><rect x="423.50" y="455.03" width="16.10" height="3.39" fill="#f8ec2a"/><rect x="423.50" y="458.12" width="16.10" height="3.39" fill="#f8ec2a"/><rect x="423.50" y="461.21" width="16.10" height="3.39" fill="#d8dc30"/><rect x="423.50" y="464.30" width="16.10" height="3.39" fill="#c0d040"/><rect x="423.50" y="467.39" width="16.10" height="3.39" fill="#a8cc50"/><rect x="423.50" y="470.48" width="16.10" height="3.39" fill="#98c460"/><rect x="423.50" y="473.57" width="16.10" height="3.39" fill="#88c080"/><rect x="423.50" y="476.66" width="16.10" height="3.39" fill="#78c0a0"/><rect x="423.50" y="479.75" width="16.10" height="3.39" fill="#70c0b0"/><rect x="423.50" y="482.84" width="16.10" height="3.39" fill="#48b4e0"/><rect x="423.50" y="485.93" width="16.10" height="3.39" fill="#3a78c0"/><rect x="423.50" y="489.02" width="16.10" height="3.39" fill="#3a68b0"/><rect x="423.50" y="492.11" width="16.10" height="3.39" fill="#3050a0"/><rect x="423.50" y="495.20" width="16.10" height="3.39" fill="#283890"/><rect x="423.50" y="498.29" width="16.10" height="3.39" fill="#202c80"/><rect x="439.30" y="433.40" width="16.10" height="3.39" fill="#68c0c0"/><rect x="439.30" y="436.49" width="16.10" height="3.39" fill="#88c080"/><rect x="439.30" y="439.58" width="16.10" height="3.39" fill="#c0d040"/><rect x="439.30" y="442.67" width="16.10" height="3.39" fill="#eae426"/><rect x="439.30" y="445.76" width="16.10" height="3.39" fill="#f8ec2a"/><rect x="439.30" y="448.85" width="16.10" height="3.39" fill="#f8ec2a"/><rect x="439.30" y="451.94" width="16.10" height="3.39" fill="#f8ec2a"/><rect x="439.30" y="455.03" width="16.10" height="3.39" fill="#f8ec2a"/><rect x="439.30" y="458.12" width="16.10" height="3.39" fill="#f8ec2a"/><rect x="439.30" y="461.21" width="16.10" height="3.39" fill="#f8ec2a"/><rect x="439.30" y="464.30" width="16.10" height="3.39" fill="#f4e826"/><rect x="439.30" y="467.39" width="16.10" height="3.39" fill="#e2e02a"/><rect x="439.30" y="470.48" width="16.10" height="3.39" fill="#d0d830"/><rect x="439.30" y="473.57" width="16.10" height="3.39" fill="#c0d040"/><rect x="439.30" y="476.66" width="16.10" height="3.39" fill="#a8cc50"/><rect x="439.30" y="479.75" width="16.10" height="3.39" fill="#98c460"/><rect x="439.30" y="482.84" width="16.10" height="3.39" fill="#88c080"/><rect x="439.30" y="485.93" width="16.10" height="3.39" fill="#78c0a0"/><rect x="439.30" y="489.02" width="16.10" height="3.39" fill="#68c0c0"/><rect x="439.30" y="492.11" width="16.10" height="3.39" fill="#48b4e0"/><rect x="439.30" y="495.20" width="16.10" height="3.39" fill="#3050a0"/><rect x="439.30" y="498.29" width="16.10" height="3.39" fill="#283890"/><rect x="439.30" y="501.38" width="16.10" height="3.39" fill="#283890"/><rect x="439.30" y="504.47" width="16.10" height="3.39" fill="#2e4898"/><rect x="455.10" y="433.40" width="16.10" height="3.39" fill="#3a78c0"/><rect x="455.10" y="436.49" width="16.10" height="3.39" fill="#58b8d8"/><rect x="455.10" y="439.58" width="16.10" height="3.39" fill="#68c0c0"/><rect x="455.10" y="442.67" width="16.10" height="3.39" fill="#78c0a0"/><rect x="455.10" y="445.76" width="16.10" height="3.39" fill="#88c080"/><rect x="455.10" y="448.85" width="16.10" height="3.39" fill="#90c070"/><rect x="455.10" y="451.94" width="16.10" height="3.39" fill="#98c460"/><rect x="455.10" y="455.03" width="16.10" height="3.39" fill="#a8cc50"/><rect x="455.10" y="458.12" width="16.10" height="3.39" fill="#c0d040"/><rect x="455.10" y="461.21" width="16.10" height="3.39" fill="#eae426"/><rect x="455.10" y="464.30" width="16.10" height="3.39" fill="#f8c828"/><rect x="455.10" y="467.39" width="16.10" height="3.39" fill="#f0a028"/><rect x="455.10" y="470.48" width="16.10" height="3.39" fill="#f09030"/><rect x="455.10" y="473.57" width="16.10" height="3.39" fill="#f08030"/><rect x="455.10" y="476.66" width="16.10" height="3.39" fill="#f08030"/><rect x="455.10" y="479.75" width="16.10" height="3.39" fill="#f09030"/><rect x="455.10" y="482.84" width="16.10" height="3.39" fill="#f8b828"/><rect x="455.10" y="485.93" width="16.10" height="3.39" fill="#f8c828"/><rect x="455.10" y="489.02" width="16.10" height="3.39" fill="#f4e826"/><rect x="455.10" y="492.11" width="16.10" height="3.39" fill="#eae426"/><rect x="455.10" y="495.20" width="16.10" height="3.39" fill="#b8d040"/><rect x="455.10" y="498.29" width="16.10" height="3.39" fill="#98c460"/><rect x="455.10" y="501.38" width="16.10" height="3.39" fill="#70c0b0"/><rect x="455.10" y="504.47" width="16.10" height="3.39" fill="#60bcc8"/><rect x="455.10" y="507.56" width="16.10" height="3.39" fill="#48b4e0"/><rect x="455.10" y="510.65" width="16.10" height="3.39" fill="#3a78c0"/><rect x="470.90" y="433.40" width="16.10" height="3.39" fill="#283890"/><rect x="470.90" y="436.49" width="16.10" height="3.39" fill="#2e4898"/><rect x="470.90" y="439.58" width="16.10" height="3.39" fill="#58b8d8"/><rect x="470.90" y="442.67" width="16.10" height="3.39" fill="#68c0c0"/><rect x="470.90" y="445.76" width="16.10" height="3.39" fill="#78c0a0"/><rect x="470.90" y="448.85" width="16.10" height="3.39" fill="#80c088"/><rect x="470.90" y="451.94" width="16.10" height="3.39" fill="#88c080"/><rect x="470.90" y="455.03" width="16.10" height="3.39" fill="#98c460"/><rect x="470.90" y="458.12" width="16.10" height="3.39" fill="#b0cc48"/><rect x="470.90" y="461.21" width="16.10" height="3.39" fill="#eae426"/><rect x="470.90" y="464.30" width="16.10" height="3.39" fill="#f8c828"/><rect x="470.90" y="467.39" width="16.10" height="3.39" fill="#f08030"/><rect x="470.90" y="470.48" width="16.10" height="3.39" fill="#e85028"/><rect x="470.90" y="473.57" width="16.10" height="3.39" fill="#e04028"/><rect x="470.90" y="476.66" width="16.10" height="3.39" fill="#e04028"/><rect x="470.90" y="479.75" width="16.10" height="3.39" fill="#e04828"/><rect x="470.90" y="482.84" width="16.10" height="3.39" fill="#e85828"/><rect x="470.90" y="485.93" width="16.10" height="3.39" fill="#f09030"/><rect x="470.90" y="489.02" width="16.10" height="3.39" fill="#f8c828"/><rect x="470.90" y="492.11" width="16.10" height="3.39" fill="#f4e826"/><rect x="470.90" y="495.20" width="16.10" height="3.39" fill="#c0d040"/><rect x="470.90" y="498.29" width="16.10" height="3.39" fill="#98c460"/><rect x="470.90" y="501.38" width="16.10" height="3.39" fill="#70c0b0"/><rect x="470.90" y="504.47" width="16.10" height="3.39" fill="#68c0c0"/><rect x="470.90" y="507.56" width="16.10" height="3.39" fill="#58b8d8"/><rect x="486.70" y="433.40" width="16.10" height="3.39" fill="#3a78c0"/><rect x="486.70" y="436.49" width="16.10" height="3.39" fill="#58b8d8"/><rect x="486.70" y="439.58" width="16.10" height="3.39" fill="#68c0c0"/><rect x="486.70" y="442.67" width="16.10" height="3.39" fill="#78c0a0"/><rect x="486.70" y="445.76" width="16.10" height="3.39" fill="#80c088"/><rect x="486.70" y="448.85" width="16.10" height="3.39" fill="#88c080"/><rect x="486.70" y="451.94" width="16.10" height="3.39" fill="#98c460"/><rect x="486.70" y="455.03" width="16.10" height="3.39" fill="#a8cc50"/><rect x="486.70" y="458.12" width="16.10" height="3.39" fill="#c0d040"/><rect x="486.70" y="461.21" width="16.10" height="3.39" fill="#f4e826"/><rect x="486.70" y="464.30" width="16.10" height="3.39" fill="#f8c828"/><rect x="486.70" y="467.39" width="16.10" height="3.39" fill="#f08030"/><rect x="486.70" y="470.48" width="16.10" height="3.39" fill="#e85828"/><rect x="486.70" y="473.57" width="16.10" height="3.39" fill="#e04028"/><rect x="486.70" y="476.66" width="16.10" height="3.39" fill="#e04028"/><rect x="486.70" y="479.75" width="16.10" height="3.39" fill="#e04828"/><rect x="486.70" y="482.84" width="16.10" height="3.39" fill="#e85828"/><rect x="486.70" y="485.93" width="16.10" height="3.39" fill="#f09030"/><rect x="486.70" y="489.02" width="16.10" height="3.39" fill="#f8c828"/><rect x="486.70" y="492.11" width="16.10" height="3.39" fill="#f4e826"/><rect x="486.70" y="495.20" width="16.10" height="3.39" fill="#c0d040"/><rect x="486.70" y="498.29" width="16.10" height="3.39" fill="#98c460"/><rect x="486.70" y="501.38" width="16.10" height="3.39" fill="#70c0b0"/><rect x="486.70" y="504.47" width="16.10" height="3.39" fill="#58b8d8"/><rect x="486.70" y="507.56" width="16.10" height="3.39" fill="#48b4e0"/><rect x="502.50" y="433.40" width="12.30" height="3.39" fill="#3a78c0"/><rect x="502.50" y="436.49" width="12.30" height="3.39" fill="#60bcc8"/><rect x="502.50" y="439.58" width="12.30" height="3.39" fill="#70c0b0"/><rect x="502.50" y="442.67" width="12.30" height="3.39" fill="#78c0a0"/><rect x="502.50" y="445.76" width="12.30" height="3.39" fill="#88c080"/><rect x="502.50" y="448.85" width="12.30" height="3.39" fill="#90c070"/><rect x="502.50" y="451.94" width="12.30" height="3.39" fill="#a8cc50"/><rect x="502.50" y="455.03" width="12.30" height="3.39" fill="#b0cc48"/><rect x="502.50" y="458.12" width="12.30" height="3.39" fill="#d0d830"/><rect x="502.50" y="461.21" width="12.30" height="3.39" fill="#f4e826"/><rect x="502.50" y="464.30" width="12.30" height="3.39" fill="#f8b828"/><rect x="502.50" y="467.39" width="12.30" height="3.39" fill="#f09030"/><rect x="502.50" y="470.48" width="12.30" height="3.39" fill="#f07030"/><rect x="502.50" y="473.57" width="12.30" height="3.39" fill="#e85828"/><rect x="502.50" y="476.66" width="12.30" height="3.39" fill="#e85028"/><rect x="502.50" y="479.75" width="12.30" height="3.39" fill="#e85828"/><rect x="502.50" y="482.84" width="12.30" height="3.39" fill="#f07030"/><rect x="502.50" y="485.93" width="12.30" height="3.39" fill="#f09030"/><rect x="502.50" y="489.02" width="12.30" height="3.39" fill="#f8c828"/><rect x="502.50" y="492.11" width="12.30" height="3.39" fill="#f4e826"/><rect x="502.50" y="495.20" width="12.30" height="3.39" fill="#c0d040"/><rect x="502.50" y="498.29" width="12.30" height="3.39" fill="#98c460"/><rect x="502.50" y="501.38" width="12.30" height="3.39" fill="#70c0b0"/><rect x="502.50" y="504.47" width="12.30" height="3.39" fill="#3a78c0"/><rect x="139.3" y="509" width="15.8" height="5" fill="#283890"/></g><clipPath id="c1"><rect x="42.0" y="27.2" width="473.70000000000005" height="125.60000000000001"/></clipPath><clipPath id="c2"><rect x="42.0" y="157.9" width="473.70000000000005" height="126.6"/></clipPath><clipPath id="c3"><rect x="42.0" y="289.2" width="473.70000000000005" height="126.0"/></clipPath><g clip-path="url(#c1)" fill="none" stroke-linejoin="round"><path d="M42.0,100.0 42.5,100.0 43.0,90.0 44.0,90.1 45.0,91.3 45.8,90.3 46.7,91.8 47.5,91.3 48.8,82.5 49.5,81.2 50.3,82.6 51.0,82.1 51.8,81.2 52.5,82.5 53.8,86.3 54.6,84.7 55.5,81.6 56.3,81.3 57.1,81.1 58.0,80.0 58.8,81.3 59.6,78.8 60.5,78.5 61.3,77.5 62.1,79.1 63.0,77.7 63.8,79.5 64.5,78.3 65.3,79.1 66.0,79.6 66.8,78.1 67.5,77.5 68.3,78.9 69.2,82.3 70.0,82.5 70.8,81.9 71.5,85.1 72.3,84.1 73.0,84.5 73.8,86.3 74.5,85.8 75.2,87.0 75.9,89.2 76.7,87.9 77.4,89.8 78.1,90.6 78.8,90.8 79.5,89.8 80.3,89.6 81.0,87.5 81.8,86.8 82.5,87.5 83.3,85.0 84.2,84.7 85.0,82.5 85.8,80.3 86.5,77.9 87.3,76.8 88.0,74.4 88.8,72.5 89.5,72.7 90.3,74.9 91.0,75.4 91.8,74.8 92.5,76.3 93.3,77.3 94.0,77.9 94.8,79.6 95.5,79.9 96.3,80.0 97.0,80.1 97.8,83.0 98.5,81.1 99.3,82.8 100.0,83.8 100.8,85.1 101.5,83.8 102.3,85.3 103.0,84.4 103.8,86.3 104.6,86.5 105.3,86.5 106.1,85.6 106.9,86.2 107.7,84.2 108.5,85.0 109.2,84.4 110.0,83.8 110.8,83.4 111.6,82.4 112.4,82.9 113.2,82.6 113.9,80.6 114.7,80.5 115.5,78.1 116.3,78.8 117.0,79.4 117.8,79.2 118.5,80.3 119.2,79.8 119.9,78.2 120.7,78.5 121.4,79.3 122.1,77.4 122.8,78.7 123.5,77.8 124.3,77.7 125.0,78.8 125.7,77.9 126.4,80.4 127.1,78.9 127.8,79.7 128.5,80.5 129.2,82.4 129.9,80.4 130.6,81.9 131.3,82.5 132.1,82.9 132.8,84.2 133.6,84.2 134.3,84.6 135.1,83.1 135.8,83.7 136.6,83.8 137.3,85.7 138.1,86.1 138.8,85.0 139.5,84.1 140.2,84.4 141.0,84.7 141.7,84.9 142.4,85.8 143.2,86.3 143.9,85.5 144.6,84.8 145.3,86.3 146.1,86.3 146.8,87.0 147.5,87.0 148.2,88.1 149.0,87.1 149.8,86.3 150.5,86.4 151.2,86.3 152.0,84.2 152.8,86.4 153.5,85.8 154.2,85.9 155.0,84.5 155.8,85.4 156.5,84.2 157.2,84.2 158.0,83.3 158.8,84.9 159.5,83.2 160.2,83.2 161.0,83.6 161.8,83.5 162.5,84.5 163.2,83.9 163.9,82.9 164.6,82.7 165.4,83.0 166.1,82.8 166.8,83.4 167.5,82.3 168.2,84.8 168.9,83.9 169.6,82.4 170.4,82.6 171.1,82.8 171.8,82.7 172.5,83.0 173.3,80.8 174.0,81.8 174.8,81.2 175.5,78.5 176.3,77.5 177.0,77.0 177.8,75.3 178.5,74.8 179.3,75.0 180.0,75.0 180.8,75.5 181.5,78.5 182.2,77.7 183.0,80.0 183.7,78.8 184.4,81.7 185.1,80.6 185.9,79.7 186.6,81.1 187.3,79.7 188.0,81.3 188.8,82.2 189.7,84.4 190.5,83.8 191.3,86.8 192.2,88.2 193.0,89.5 193.8,83.6 194.7,78.6 195.5,73.8 196.3,75.7 197.2,80.4 198.0,82.5 198.8,85.1 199.7,88.3 200.5,90.0 201.8,108.8 203.0,92.5 204.0,85.1 205.0,78.8 205.9,91.7 206.8,106.3 207.6,106.8 208.5,106.9 209.3,105.0 210.1,104.4 211.0,102.6 211.8,100.0 212.6,101.4 213.5,101.6 214.3,101.3 215.1,102.5 216.0,105.5 216.8,107.5 217.6,107.4 218.4,106.7 219.2,107.1 220.0,108.8 220.9,116.2 221.8,125.0 222.6,128.4 223.5,133.9 224.3,137.5 225.1,137.9 226.0,135.3 226.8,134.5 227.6,137.3 228.5,139.0 229.3,139.0 230.1,137.4 231.0,132.6 231.8,130.0 232.5,127.7 233.3,126.2 234.0,124.6 234.8,123.1 235.5,122.5 236.3,122.1 237.0,122.2 237.8,121.3 238.5,119.5 239.3,118.8 240.0,118.5 240.8,118.2 241.5,115.3 242.3,116.2 243.0,115.0 243.8,114.7 244.5,112.8 245.3,111.3 246.0,108.9 246.8,107.5 247.5,107.5 248.3,110.4 249.0,110.0 249.8,112.4 250.5,112.5 251.3,113.7 252.0,111.7 252.8,111.5 253.5,112.9 254.3,111.3 255.0,110.5 255.8,107.3 256.5,105.7 257.3,104.3 258.0,103.8 258.8,101.9 259.5,98.5 260.2,93.3 261.0,92.2 261.8,89.6 262.5,85.0 263.4,88.0 264.3,90.0 265.0,92.1 265.8,95.1 266.5,96.4 267.3,98.5 268.0,102.5 268.7,104.5 269.4,104.0 270.1,104.2 270.9,106.0 271.6,105.0 272.3,106.9 273.0,106.3 273.7,106.9 274.4,104.7 275.1,104.5 275.9,104.3 276.6,103.7 277.3,104.4 278.0,103.8 278.8,102.3 279.5,102.0 280.3,100.4 281.0,102.0 281.8,100.0 282.6,101.7 283.5,104.1 284.3,106.3 285.1,112.8 286.0,118.8 287.0,111.9 288.0,102.5 288.7,102.8 289.4,104.8 290.1,104.1 290.9,104.8 291.6,105.3 292.3,104.3 293.0,106.3 293.7,105.6 294.4,104.3 295.1,103.2 295.9,105.0 296.6,102.6 297.3,103.0 298.0,102.5 298.8,102.2 299.5,100.7 300.3,99.0 301.0,98.6 301.8,97.5 302.6,97.4 303.4,97.7 304.1,95.4 304.9,96.4 305.7,95.2 306.4,95.0 307.2,96.1 308.0,95.0 308.7,95.2 309.4,95.6 310.1,96.3 310.9,97.0 311.6,95.8 312.3,96.5 313.0,96.3 313.7,96.1 314.4,96.0 315.1,96.3 315.9,95.4 316.6,95.5 317.3,95.1 318.0,95.0 319.0,92.0 320.0,86.3 320.8,88.1 321.5,89.9 322.2,91.4 323.0,91.3 323.8,90.3 324.5,90.8 325.2,91.7 326.0,90.0 326.8,90.3 327.5,87.4 328.3,86.6 329.0,86.9 329.8,86.3 330.6,84.2 331.5,83.9 332.3,83.8 333.1,82.9 334.0,85.1 334.8,85.0 335.6,88.1 336.4,90.6 337.2,90.6 338.0,93.8 338.9,90.7 339.8,86.3 340.6,83.6 341.5,80.0 342.5,74.6 343.5,71.3 344.5,76.8 345.5,80.0 346.4,78.9 347.3,75.0 348.1,72.3 349.0,71.3 350.0,69.5 351.0,65.0 352.0,63.2 353.0,62.0 353.8,63.0 354.5,65.6 355.2,66.2 356.0,66.3 356.8,65.9 357.5,67.4 358.3,68.3 359.0,68.4 359.8,69.5 360.5,68.3 361.3,68.4 362.0,69.3 362.8,66.9 363.5,68.0 364.2,68.4 364.9,68.4 365.6,67.4 366.3,68.6 367.0,69.8 367.7,69.7 368.4,68.6 369.1,71.7 369.8,70.5 370.5,71.6 371.2,72.3 372.0,69.9 372.7,70.6 373.4,70.2 374.1,72.6 374.9,71.3 375.6,71.1 376.3,72.1 377.1,73.8 377.8,73.7 378.5,73.0 379.2,72.7 380.0,72.8 380.8,75.6 381.5,75.0 382.2,75.9 383.0,74.5 383.8,74.8 384.5,77.2 385.2,76.8 386.0,77.5 386.8,76.7 387.5,79.8 388.2,79.4 389.0,80.4 389.8,78.8 390.5,81.6 391.2,79.7 392.0,82.6 392.8,81.9 393.5,82.5 394.2,81.5 394.9,81.6 395.6,82.2 396.4,79.7 397.1,78.7 397.8,79.4 398.5,78.8 399.2,78.1 400.0,77.8 400.8,78.0 401.5,77.7 402.2,78.3 403.0,78.7 403.8,78.7 404.5,80.1 405.2,78.8 406.0,79.5 406.8,79.6 407.5,78.8 408.2,79.4 409.0,78.6 409.8,79.4 410.5,78.8 411.2,81.1 412.0,80.7 412.8,79.7 413.5,80.8 414.2,80.8 414.9,82.3 415.6,80.0 416.4,82.2 417.1,81.2 417.8,81.5 418.5,82.7 419.2,81.5 419.9,81.9 420.6,82.6 421.4,83.6 422.1,81.8 422.8,83.4 423.5,82.5 424.2,83.3 425.0,83.3 425.8,82.8 426.5,82.8 427.2,82.2 428.0,82.6 428.8,82.6 429.5,84.8 430.2,83.6 431.0,84.5 431.7,84.5 432.4,85.3 433.1,88.6 433.8,89.7 434.5,90.2 435.2,90.0 435.9,91.0 436.6,92.1 437.3,93.8 438.1,93.4 438.9,92.1 439.6,92.7 440.4,91.8 441.2,93.6 441.9,93.3 442.7,91.8 443.5,91.3 444.2,90.3 444.9,92.3 445.6,90.2 446.4,90.1 447.1,88.9 447.8,89.8 448.5,90.0 449.3,91.6 450.2,93.3 451.0,95.0 451.8,91.0 452.5,88.8 453.2,84.1 454.0,82.5 455.0,85.5 456.0,90.0 457.0,95.0 458.0,102.5 458.9,97.2 459.8,92.5 460.6,85.3 461.5,79.4 462.3,75.0 463.3,83.2 464.3,92.5 465.1,87.3 466.0,83.8 466.8,86.9 467.5,89.5 468.2,93.0 469.0,95.0 469.5,118.8 470.5,113.0 471.5,106.3 472.3,110.7 473.2,114.9 474.0,117.5 474.8,116.4 475.5,115.5 476.3,116.7 477.0,113.5 477.8,113.8 478.5,114.0 479.3,113.2 480.0,110.9 480.8,112.8 481.5,111.3 482.2,111.2 483.0,109.2 483.8,108.3 484.5,106.3 485.3,109.3 486.2,109.4 487.0,112.5 487.8,111.9 488.6,111.3 489.5,111.6 490.3,110.0 491.0,111.7 491.8,112.5 492.5,112.5 493.3,114.2 494.0,113.8 494.8,113.3 495.5,112.4 496.3,110.0 497.0,108.4 497.8,108.8 498.6,108.0 499.4,109.0 500.2,108.5 501.0,110.0 501.8,108.2 502.5,104.6 503.2,102.0 504.0,98.8 504.8,102.5 505.7,106.0 506.5,108.8 507.3,106.3 508.2,102.3 509.0,101.3 509.8,100.9 510.7,99.5 511.5,97.5 512.5,99.4 513.5,101.3 514.4,99.5 515.3,97.5" stroke="#4862b0" stroke-width="0.85"/><path d="M42.0,73.0 46.8,73.3 50.0,74.3 57.5,75.8 63.8,78.0 67.5,81.3 71.3,72.5 77.5,68.0 82.5,71.3 87.5,80.0 92.5,80.5 100.0,82.5 108.8,79.5 118.8,82.0 123.8,77.5 131.3,70.5 140.0,67.5 146.3,62.5 156.3,62.5 162.5,65.0 170.0,71.3 174.5,78.8 178.0,83.8 181.3,77.5 183.0,73.0 188.0,75.0 194.3,73.0 196.8,77.5 200.0,87.5 202.5,102.5 205.5,115.0 210.5,123.8 215.5,125.0 220.0,112.5 225.5,105.5 231.8,110.5 243.0,115.0 248.0,119.5 251.8,120.0 256.8,124.5 263.0,112.5 269.3,103.8 278.0,94.5 283.0,101.3 289.3,109.5 299.3,103.8 305.5,77.5 309.3,67.5 315.0,63.8 321.0,80.0 326.0,78.8 331.0,83.8 336.0,86.3 341.0,77.5 347.3,71.3 352.3,82.0 358.5,77.0 367.3,75.0 373.5,75.0 378.5,69.5 383.5,68.8 389.8,61.3 394.8,60.0 399.8,62.0 406.0,53.8 411.0,53.0 421.0,43.0 428.5,47.5 436.0,47.0 442.3,63.8 447.8,67.5 452.8,72.0 457.8,69.5 460.3,82.5 462.8,107.5 467.8,108.8 472.8,111.3 479.0,110.0 484.0,108.8 489.0,112.5 499.0,114.5 506.5,114.5 511.5,115.0 515.3,113.3" stroke="#d93f42" stroke-width="1.2"/></g><g clip-path="url(#c2)" fill="none"><path d="M42.3,232.4 42.3,227.7 42.7,228.7 42.7,234.6 43.1,233.9 43.1,228.6 43.5,233.4 43.5,234.6 43.9,231.5 43.9,226.6 44.3,224.9 44.3,239.3 44.7,232.9 44.7,224.7 45.1,228.3 45.1,233.0 45.5,234.9 45.5,232.8 45.9,231.6 45.9,234.0 46.3,231.1 46.3,229.7 46.7,229.6 46.7,236.0 47.1,234.4 47.1,230.4 47.5,230.8 47.5,236.9 47.9,236.2 47.9,224.7 48.3,230.0 48.3,237.8 48.7,238.8 48.7,225.6 49.1,233.7 49.1,238.1 49.5,231.9 49.5,230.7 49.9,230.5 49.9,238.5 50.3,236.1 50.3,230.5 50.7,227.4 50.7,235.7 51.1,241.3 51.1,240.4 51.5,236.6 51.5,242.7 51.9,240.5 51.9,233.4 52.3,235.7 52.3,241.3 52.7,230.3 52.7,228.3 53.1,219.0 53.1,236.3 53.5,240.2 53.5,236.1 53.9,233.5 53.9,240.8 54.3,240.3 54.3,235.7 54.7,232.4 54.7,236.8 55.1,238.5 55.1,231.8 55.5,237.0 55.5,239.4 55.9,239.8 55.9,231.5 56.3,232.0 56.3,242.1 56.7,237.8 56.7,236.3 57.1,226.1 57.1,236.0 57.5,233.0 57.5,227.4 57.9,227.0 57.9,234.7 58.3,231.6 58.3,230.3 58.7,229.9 58.7,237.6 59.1,234.7 59.1,228.9 59.5,231.9 59.5,235.9 59.9,239.0 59.9,231.8 60.3,238.4 60.3,242.7 60.7,241.0 60.7,233.9 61.1,234.8 61.1,237.8 61.5,231.6 61.5,229.7 61.9,232.4 61.9,237.3 62.3,239.3 62.3,230.6 62.7,228.7 62.7,232.0 63.1,236.7 63.1,234.6 63.5,235.5 63.5,241.4 63.9,241.4 63.9,236.2 64.3,234.5 64.3,238.1 64.7,235.0 64.7,229.9 65.1,227.9 65.1,233.7 65.5,233.7 65.5,225.7 65.9,235.2 65.9,247.9 66.3,241.2 66.3,232.9 66.7,235.5 66.7,239.9 67.1,235.6 67.1,232.5 67.5,230.2 67.5,232.1 67.9,234.1 67.9,230.2 68.3,229.6 68.3,230.5 68.7,233.3 68.7,229.8 69.1,229.9 69.1,234.4 69.5,232.9 69.5,230.9 69.9,229.2 69.9,235.9 70.3,234.6 70.3,230.8 70.7,232.1 70.7,236.1 71.1,236.0 71.1,224.7 71.5,217.7 71.5,229.2 71.9,233.2 71.9,232.4 72.3,228.9 72.3,231.8 72.7,229.0 72.7,223.4 73.1,226.5 73.1,228.9 73.5,228.4 73.5,225.9 73.9,229.1 73.9,231.4 74.3,230.0 74.3,228.7 74.7,222.6 74.7,227.5 75.1,231.4 75.1,229.1 75.5,228.6 75.5,232.0 75.9,229.3 75.9,224.1 76.3,228.0 76.3,231.3 76.7,228.1 76.7,227.9 77.1,232.1 77.1,233.2 77.5,232.7 77.5,231.5 77.9,230.0 77.9,232.8 78.3,232.2 78.3,229.7 78.7,227.5 78.7,234.9 79.1,233.3 79.1,228.0 79.5,229.6 79.5,234.1 79.9,239.6 79.9,232.4 80.3,233.2 80.3,235.0 80.7,236.8 80.7,232.9 81.1,233.3 81.1,235.6 81.5,233.5 81.5,229.7 81.9,231.1 81.9,234.5 82.3,230.4 82.3,226.5 82.7,227.9 82.7,230.7 83.1,234.8 83.1,232.7 83.5,231.3 83.5,235.3 83.9,234.3 83.9,230.2 84.3,230.7 84.3,235.7 84.7,235.9 84.7,232.3 85.1,231.3 85.1,238.2 85.5,236.6 85.5,235.4 85.9,234.9 85.9,236.2 86.3,235.4 86.3,233.8 86.7,231.9 86.7,236.0 87.1,231.3 87.1,229.7 87.5,229.8 87.5,235.1 87.9,232.9 87.9,229.9 88.3,231.7 88.3,234.3 88.7,235.0 88.7,233.1 89.1,232.8 89.1,233.4 89.5,237.4 89.5,234.0 89.9,234.5 89.9,237.9 90.3,239.0 90.3,235.2 90.7,231.5 90.7,236.4 91.1,241.5 91.1,236.4 91.5,236.8 91.5,237.6 91.9,238.4 91.9,236.0 92.3,232.0 92.3,239.0 92.7,236.4 92.7,234.9 93.1,235.0 93.1,237.2 93.5,235.5 93.5,234.1 93.9,233.6 93.9,239.4 94.3,236.2 94.3,230.0 94.7,232.2 94.7,235.5 95.1,235.4 95.1,234.2 95.5,233.6 95.5,237.6 95.9,235.4 95.9,233.4 96.3,234.6 96.3,237.1 96.7,237.0 96.7,233.5 97.1,233.4 97.1,236.8 97.5,238.9 97.5,233.9 97.9,232.5 97.9,238.1 98.3,236.6 98.3,233.2 98.7,234.5 98.7,237.1 99.1,237.7 99.1,234.4 99.5,233.6 99.5,238.2 99.9,234.1 99.9,232.6 100.3,233.9 100.3,237.1 100.7,237.6 100.7,233.9 101.1,233.5 101.1,239.6 101.5,239.0 101.5,235.4 101.9,235.3 101.9,240.0 102.3,238.7 102.3,236.1 102.7,235.9 102.7,237.2 103.1,238.7 103.1,236.5 103.5,236.9 103.5,239.5 103.9,239.9 103.9,236.8 104.3,239.2 104.3,244.0 104.7,240.6 104.7,235.8 105.1,236.6 105.1,240.2 105.5,243.4 105.5,238.2 105.9,236.9 105.9,240.8 106.3,237.9 106.3,236.9 106.7,238.8 106.7,246.2 107.1,237.4 107.1,234.7 107.5,233.0 107.5,235.5 107.9,237.3 107.9,232.8 108.3,232.1 108.3,236.8 108.7,237.7 108.7,235.9 109.1,235.2 109.1,237.9 109.5,243.7 109.5,234.6 109.9,236.3 109.9,237.3 110.3,241.7 110.3,234.8 110.7,232.1 110.7,236.7 111.1,235.9 111.1,230.6 111.5,235.0 111.5,236.3 111.9,238.2 111.9,235.2 112.3,231.7 112.3,237.5 112.7,238.1 112.7,232.0 113.1,233.3 113.1,237.3 113.5,236.6 113.5,234.5 113.9,234.8 113.9,236.7 114.3,237.5 114.3,235.2 114.7,234.3 114.7,237.9 115.1,237.3 115.1,234.9 115.5,236.6 115.5,238.2 115.9,236.4 115.9,236.2 116.3,236.2 116.3,236.7 116.7,237.0 116.7,235.2 117.1,235.4 117.1,237.5 117.5,237.1 117.5,234.2 117.9,234.8 117.9,236.3 118.3,236.5 118.3,236.1 118.7,235.1 118.7,236.4 119.1,236.3 119.1,235.5 119.5,233.6 119.5,235.7 119.9,236.2 119.9,235.1 120.3,235.2 120.3,236.7 120.7,233.5 120.7,232.7 121.1,233.7 121.1,235.8 121.5,234.6 121.5,233.9 121.9,234.4 121.9,235.5 122.3,235.2 122.3,234.0 122.7,233.7 122.7,237.1 123.1,235.6 123.1,234.2 123.5,234.0 123.5,235.0 123.9,235.5 123.9,235.2 124.3,234.1 124.3,235.2 124.7,235.2 124.7,233.8 125.1,234.6 125.1,236.6 125.5,234.5 125.5,233.8 125.9,234.5 125.9,235.3 126.3,235.5 126.3,233.9 126.7,235.2 126.7,235.4 127.1,236.5 127.1,235.5 127.5,235.0 127.5,236.6 127.9,235.6 127.9,234.3 128.3,236.2 128.3,237.8 128.7,236.8 128.7,236.0 129.1,235.6 129.1,237.5 129.5,234.9 129.5,233.5 129.9,233.3 129.9,234.5 130.3,236.2 130.3,232.5 130.7,234.8 130.7,236.7 131.1,237.0 131.1,236.0 131.5,234.5 131.5,236.5 131.9,238.1 131.9,236.0 132.3,234.9 132.3,237.0 132.7,236.3 132.7,235.6 133.1,235.4 133.1,237.2 133.5,237.3 133.5,234.6 133.9,235.2 133.9,237.0 134.3,235.4 134.3,233.4 134.7,232.3 134.7,234.8 135.1,235.1 135.1,233.3 135.5,232.7 135.5,234.9 135.9,234.7 135.9,232.4 136.3,233.1 136.3,234.7 136.7,234.0 136.7,231.4 137.1,231.7 137.1,232.7 137.5,234.0 137.5,222.8 137.9,232.5 137.9,234.8 138.3,239.6 138.3,231.6 138.7,231.7 138.7,233.8 139.1,236.9 139.1,232.9 139.5,229.0 139.5,236.2 139.9,237.2 139.9,234.3 140.3,235.1 140.3,236.0 140.7,236.5 140.7,235.2 141.1,234.3 141.1,237.2 141.5,236.0 141.5,233.7 141.9,232.7 141.9,235.5 142.3,236.2 142.3,232.1 142.7,232.4 142.7,234.2 143.1,232.5 143.1,229.7 143.5,232.0 143.5,234.9 143.9,232.9 143.9,230.4 144.3,230.9 144.3,238.7 144.7,233.9 144.7,231.6 145.1,233.4 145.1,235.6 145.5,236.0 145.5,234.8 145.9,234.5 145.9,235.5 146.3,234.8 146.3,232.2 146.7,233.0 146.7,240.6 147.1,233.3 147.1,232.0 147.5,231.7 147.5,232.7 147.9,233.3 147.9,231.1 148.3,234.0 148.3,235.9 148.7,236.5 148.7,232.9 149.1,234.5 149.1,236.0 149.5,234.4 149.5,228.2 149.9,232.2 149.9,234.1 150.3,235.1 150.3,231.9 150.7,228.0 150.7,232.7 151.1,234.0 151.1,231.0 151.5,231.2 151.5,234.6 151.9,234.6 151.9,232.8 152.3,232.2 152.3,234.8 152.7,236.1 152.7,233.0 153.1,233.5 153.1,236.6 153.5,234.8 153.5,231.2 153.9,230.3 153.9,231.4 154.3,233.0 154.3,229.8 154.7,232.0 154.7,234.7 155.1,235.0 155.1,234.4 155.5,232.1 155.5,237.0 155.9,235.2 155.9,233.1 156.3,231.5 156.3,234.9 156.7,234.9 156.7,232.2 157.1,231.3 157.1,233.6 157.5,233.9 157.5,229.1 157.9,230.7 157.9,234.6 158.3,234.0 158.3,230.9 158.7,230.7 158.7,231.9 159.1,233.5 159.1,231.7 159.5,226.0 159.5,233.4 159.9,232.2 159.9,229.9 160.3,230.5 160.3,234.2 160.7,232.8 160.7,231.5 161.1,230.7 161.1,232.8 161.5,231.7 161.5,230.0 161.9,232.5 161.9,237.2 162.3,235.4 162.3,230.1 162.7,234.0 162.7,239.1 163.1,236.7 163.1,233.0 163.5,234.8 163.5,236.7 163.9,236.8 163.9,233.0 164.3,230.1 164.3,235.4 164.7,232.7 164.7,231.8 165.1,228.4 165.1,235.2 165.5,233.1 165.5,231.0 165.9,233.8 165.9,234.6 166.3,233.6 166.3,231.8 166.7,229.2 166.7,234.3 167.1,235.6 167.1,231.3 167.5,231.8 167.5,234.7 167.9,233.2 167.9,230.9 168.3,230.5 168.3,231.7 168.7,230.3 168.7,228.2 169.1,229.7 169.1,232.2 169.5,230.8 169.5,228.9 169.9,222.8 169.9,232.0 170.3,230.6 170.3,230.2 170.7,230.0 170.7,232.5 171.1,233.2 171.1,227.8 171.5,232.6 171.5,232.8 171.9,232.1 171.9,229.3 172.3,227.2 172.3,229.4 172.7,231.6 172.7,228.9 173.1,229.4 173.1,231.8 173.5,231.1 173.5,230.4 173.9,227.7 173.9,233.1 174.3,230.2 174.3,229.5 174.7,228.3 174.7,230.2 175.1,230.8 175.1,226.2 175.5,224.7 175.5,228.8 175.9,236.9 175.9,227.7 176.3,224.9 176.3,228.4 176.7,229.4 176.7,226.8 177.1,227.4 177.1,229.3 177.5,228.5 177.5,227.0 177.9,225.2 177.9,227.9 178.3,229.0 178.3,226.1 178.7,224.7 178.7,226.8 179.1,228.0 179.1,226.5 179.5,225.8 179.5,233.3 179.9,232.7 179.9,229.4 180.3,230.0 180.3,230.5 180.7,232.5 180.7,227.1 181.1,228.4 181.1,229.8 181.5,229.6 181.5,226.7 181.9,228.2 181.9,230.1 182.3,235.1 182.3,229.3 182.7,228.5 182.7,230.0 183.1,233.2 183.1,229.8 183.5,226.6 183.5,229.8 183.9,227.1 183.9,223.8 184.3,224.7 184.3,227.9 184.7,228.0 184.7,223.6 185.1,222.9 185.1,225.4 185.5,227.7 185.5,224.2 185.9,221.7 185.9,225.1 186.3,230.0 186.3,226.0 186.7,223.1 186.7,227.3 187.1,227.3 187.1,222.3 187.5,221.8 187.5,225.0 187.9,223.5 187.9,220.3 188.3,219.8 188.3,223.1 188.7,223.2 188.7,221.1 189.1,222.6 189.1,225.9 189.5,221.5 189.5,220.4 189.9,217.0 189.9,224.9 190.3,223.9 190.3,221.4 190.7,219.9 190.7,225.6 191.1,225.8 191.1,221.9 191.5,220.8 191.5,223.9 191.9,224.3 191.9,222.6 192.3,217.8 192.3,225.0 192.7,222.8 192.7,219.2 193.1,223.1 193.1,224.1 193.5,225.5 193.5,223.8 193.9,217.4 193.9,222.3 194.3,222.6 194.3,219.0 194.7,219.0 194.7,222.6 195.1,226.9 195.1,221.1 195.5,221.1 195.5,222.0 195.9,224.1 195.9,220.9 196.3,221.0 196.3,223.4 196.7,221.2 196.7,215.1 197.1,219.7 197.1,223.4 197.5,221.5 197.5,219.1 197.9,217.7 197.9,220.7 198.3,219.6 198.3,218.7 198.7,217.8 198.7,221.5 199.1,223.5 199.1,220.6 199.5,218.6 199.5,224.6 199.9,224.0 199.9,219.4 200.3,218.6 200.3,224.9 200.7,221.6 200.7,220.6 201.1,218.9 201.1,223.1 201.5,223.7 201.5,220.9 201.9,221.1 201.9,222.9 202.3,224.5 202.3,221.8 202.7,221.3 202.7,225.0 203.1,224.3 203.1,223.0 203.5,217.0 203.5,224.7 203.9,223.0 203.9,219.7 204.3,219.7 204.3,226.6 204.7,222.2 204.7,216.4 205.1,220.1 205.1,221.2 205.5,220.7 205.5,218.7 205.9,217.4 205.9,220.2 206.3,226.8 206.3,220.3 206.7,218.6 206.7,221.6 207.1,224.3 207.1,222.6 207.5,222.3 207.5,223.4 207.9,222.8 207.9,221.4 208.3,219.7 208.3,221.8 208.7,223.6 208.7,219.7 209.1,216.2 209.1,219.6 209.5,220.8 209.5,217.7 209.9,216.9 209.9,220.4 210.3,216.4 210.3,215.7 210.7,217.6 210.7,218.9 211.1,221.9 211.1,219.7 211.5,215.8 211.5,221.8 211.9,223.1 211.9,217.8 212.3,217.7 212.3,229.6 212.7,217.6 212.7,215.3 213.1,215.9 213.1,218.7 213.5,217.2 213.5,214.2 213.9,209.7 213.9,220.0 214.3,218.9 214.3,217.0 214.7,219.1 214.7,222.3 215.1,218.6 215.1,217.0 215.5,214.7 215.5,216.1 215.9,219.0 215.9,216.6 216.3,214.8 216.3,216.4 216.7,217.5 216.7,215.5 217.1,216.2 217.1,217.9 217.5,217.4 217.5,217.1 217.9,214.6 217.9,221.8 218.3,222.3 218.3,215.8 218.7,215.3 218.7,215.8 219.1,218.5 219.1,217.1 219.5,214.0 219.5,215.4 219.9,220.9 219.9,214.6 220.3,212.6 220.3,216.9 220.7,216.2 220.7,215.5 221.1,214.0 221.1,215.3 221.5,216.4 221.5,214.0 221.9,217.8 221.9,219.6 222.3,217.4 222.3,214.3 222.7,214.5 222.7,216.2 223.1,213.9 223.1,212.2 223.5,212.3 223.5,215.6 223.9,215.5 223.9,214.5 224.3,213.9 224.3,216.2 224.7,214.7 224.7,212.2 225.1,211.8 225.1,214.1 225.5,216.1 225.5,212.0 225.9,213.3 225.9,214.3 226.3,217.4 226.3,214.6 226.7,213.7 226.7,215.4 227.1,215.7 227.1,213.8 227.5,215.3 227.5,219.6 227.9,216.9 227.9,215.7 228.3,215.4 228.3,217.4 228.7,218.7 228.7,216.5 229.1,217.2 229.1,221.0 229.5,220.1 229.5,219.0 229.9,218.4 229.9,220.9 230.3,219.5 230.3,216.9 230.7,215.7 230.7,218.2 231.1,219.5 231.1,214.9 231.5,216.0 231.5,217.3 231.9,218.4 231.9,216.4 232.3,216.3 232.3,217.4 232.7,218.1 232.7,215.6 233.1,215.1 233.1,220.2 233.5,219.4 233.5,218.5 233.9,217.3 233.9,221.2 234.3,219.8 234.3,213.2 234.7,217.4 234.7,219.0 235.1,219.9 235.1,218.2 235.5,217.5 235.5,220.6 235.9,220.9 235.9,217.1 236.3,218.3 236.3,220.9 236.7,219.8 236.7,217.7 237.1,218.6 237.1,219.6 237.5,218.4 237.5,213.8 237.9,216.0 237.9,218.3 238.3,220.9 238.3,215.1 238.7,213.8 238.7,223.1 239.1,220.0 239.1,219.1 239.5,218.3 239.5,220.4 239.9,222.1 239.9,220.5 240.3,219.5 240.3,224.0 240.7,223.5 240.7,221.6 241.1,221.2 241.1,225.4 241.5,223.5 241.5,219.6 241.9,221.0 241.9,222.5 242.3,224.9 242.3,221.4 242.7,217.9 242.7,225.6 243.1,224.1 243.1,222.5 243.5,224.0 243.5,226.6 243.9,225.8 243.9,223.0 244.3,223.3 244.3,228.7 244.7,223.9 244.7,221.1 245.1,222.4 245.1,224.7 245.5,226.5 245.5,221.0 245.9,221.7 245.9,224.7 246.3,226.2 246.3,221.7 246.7,223.0 246.7,225.5 247.1,224.7 247.1,222.3 247.5,223.7 247.5,224.1 247.9,225.1 247.9,223.0 248.3,221.4 248.3,225.5 248.7,225.6 248.7,220.1 249.1,221.7 249.1,225.1 249.5,223.0 249.5,222.5 249.9,220.5 249.9,226.2 250.3,229.3 250.3,221.7 250.7,223.9 250.7,230.0 251.1,229.5 251.1,222.8 251.5,223.2 251.5,224.9 251.9,225.4 251.9,223.6 252.3,223.1 252.3,227.7 252.7,225.8 252.7,223.8 253.1,224.0 253.1,224.8 253.5,225.0 253.5,218.8 253.9,217.1 253.9,221.3 254.3,224.8 254.3,220.9 254.7,223.4 254.7,225.7 255.1,224.4 255.1,223.5 255.5,221.9 255.5,226.5 255.9,225.9 255.9,224.3 256.3,224.8 256.3,226.9 256.7,227.5 256.7,226.6 257.1,225.8 257.1,228.6 257.5,227.4 257.5,225.1 257.9,224.7 257.9,225.7 258.3,227.4 258.3,226.2 258.7,224.5 258.7,227.9 259.1,226.9 259.1,222.4 259.5,224.9 259.5,229.7 259.9,229.1 259.9,227.5 260.3,225.4 260.3,228.3 260.7,226.9 260.7,225.5 261.1,226.2 261.1,227.5 261.5,229.7 261.5,225.9 261.9,224.2 261.9,227.6 262.3,227.9 262.3,223.7 262.7,225.6 262.7,227.6 263.1,227.8 263.1,224.9 263.5,223.2 263.5,224.7 263.9,225.6 263.9,224.4 264.3,225.6 264.3,226.7 264.7,228.0 264.7,225.2 265.1,224.4 265.1,224.9 265.5,226.1 265.5,222.6 265.9,222.3 265.9,223.7 266.3,225.6 266.3,224.2 266.7,224.3 266.7,224.8 267.1,225.8 267.1,224.7 267.5,221.1 267.5,223.5 267.9,220.7 267.9,219.2 268.3,221.5 268.3,223.7 268.7,222.5 268.7,222.3 269.1,219.7 269.1,221.5 269.5,220.5 269.5,217.6 269.9,220.9 269.9,222.0 270.3,222.2 270.3,220.9 270.7,222.6 270.7,223.3 271.1,223.2 271.1,220.8 271.5,221.1 271.5,221.3 271.9,224.1 271.9,223.2 272.3,221.4 272.3,223.3 272.7,226.5 272.7,222.3 273.1,221.8 273.1,225.4 273.5,221.3 273.5,218.9 273.9,221.5 273.9,223.6 274.3,221.4 274.3,221.3 274.7,218.0 274.7,220.5 275.1,222.4 275.1,221.4 275.5,218.7 275.5,219.3 275.9,218.6 275.9,217.0 276.3,215.9 276.3,222.0 276.7,219.7 276.7,218.3 277.1,219.3 277.1,221.2 277.5,221.9 277.5,217.1 277.9,219.0 277.9,222.8 278.3,221.1 278.3,219.7 278.7,221.2 278.7,222.3 279.1,225.2 279.1,223.6 279.5,222.2 279.5,225.3 279.9,227.2 279.9,223.2 280.3,225.0 280.3,226.2 280.7,224.7 280.7,223.3 281.1,224.5 281.1,225.9 281.5,225.2 281.5,223.5 281.9,222.1 281.9,223.7 282.3,225.3 282.3,222.4 282.7,224.5 282.7,226.9 283.1,226.6 283.1,224.7 283.5,221.8 283.5,225.0 283.9,225.7 283.9,222.4 284.3,222.3 284.3,224.2 284.7,225.3 284.7,222.6 285.1,221.7 285.1,227.0 285.5,225.4 285.5,223.7 285.9,222.8 285.9,225.0 286.3,225.3 286.3,222.6 286.7,224.0 286.7,226.9 287.1,225.7 287.1,222.3 287.5,223.4 287.5,224.0 287.9,224.1 287.9,221.6 288.3,222.3 288.3,222.8 288.7,224.3 288.7,222.2 289.1,220.0 289.1,224.8 289.5,225.3 289.5,220.4 289.9,223.4 289.9,228.2 290.3,224.1 290.3,223.1 290.7,224.2 290.7,228.6 291.1,225.2 291.1,223.8 291.5,219.0 291.5,224.6 291.9,225.6 291.9,221.7 292.3,222.9 292.3,224.1 292.7,223.9 292.7,222.2 293.1,223.4 293.1,225.5 293.5,221.9 293.5,221.0 293.9,221.9 293.9,223.9 294.3,223.0 294.3,221.3 294.7,224.2 294.7,226.3 295.1,224.6 295.1,222.8 295.5,223.3 295.5,224.1 295.9,221.6 295.9,218.7 296.3,219.6 296.3,224.1 296.7,223.7 296.7,220.7 297.1,221.6 297.1,222.3 297.5,223.7 297.5,222.5 297.9,222.6 297.9,224.9 298.3,223.7 298.3,220.8 298.7,221.2 298.7,222.2 299.1,222.8 299.1,221.1 299.5,222.4 299.5,222.9 299.9,226.4 299.9,222.7 300.3,225.2 300.3,230.2 300.7,227.2 300.7,225.3 301.1,223.7 301.1,226.0 301.5,224.3 301.5,221.8 301.9,223.5 301.9,226.7 302.3,222.5 302.3,220.5 302.7,221.1 302.7,224.2 303.1,227.3 303.1,222.1 303.5,223.5 303.5,224.0 303.9,224.9 303.9,224.1 304.3,223.0 304.3,225.2 304.7,225.8 304.7,223.0 305.1,222.6 305.1,226.6 305.5,225.4 305.5,223.3 305.9,222.5 305.9,224.5 306.3,225.5 306.3,222.2 306.7,225.1 306.7,227.6 307.1,225.4 307.1,221.4 307.5,223.7 307.5,226.9 307.9,228.7 307.9,223.2 308.3,225.6 308.3,227.1 308.7,228.1 308.7,223.2 309.1,221.9 309.1,224.1 309.5,223.0 309.5,221.3 309.9,221.1 309.9,227.7 310.3,223.5 310.3,221.7 310.7,220.7 310.7,222.4 311.1,221.1 311.1,219.4 311.5,220.7 311.5,223.4 311.9,223.7 311.9,221.6 312.3,223.8 312.3,226.7 312.7,225.6 312.7,222.9 313.1,223.8 313.1,227.2 313.5,225.5 313.5,223.8 313.9,222.4 313.9,225.6 314.3,222.3 314.3,220.3 314.7,222.7 314.7,229.0 315.1,226.2 315.1,222.8 315.5,223.5 315.5,224.9 315.9,227.9 315.9,225.1 316.3,224.7 316.3,229.1 316.7,235.5 316.7,226.7 317.1,228.0 317.1,230.2 317.5,228.6 317.5,225.0 317.9,227.6 317.9,229.6 318.3,228.1 318.3,224.3 318.7,226.2 318.7,229.0 319.1,228.5 319.1,226.2 319.5,227.2 319.5,228.3 319.9,229.4 319.9,226.3 320.3,226.9 320.3,230.3 320.7,230.4 320.7,225.8 321.1,228.4 321.1,234.1 321.5,228.8 321.5,228.3 321.9,229.3 321.9,231.4 322.3,230.0 322.3,228.1 322.7,226.1 322.7,230.0 323.1,229.1 323.1,222.5 323.5,229.5 323.5,230.1 323.9,229.6 323.9,225.7 324.3,221.9 324.3,232.6 324.7,232.1 324.7,228.1 325.1,229.6 325.1,230.0 325.5,234.3 325.5,227.9 325.9,227.5 325.9,231.5 326.3,236.5 326.3,231.5 326.7,224.0 326.7,232.8 327.1,231.0 327.1,228.3 327.5,229.6 327.5,233.6 327.9,230.3 327.9,227.9 328.3,226.0 328.3,228.9 328.7,240.1 328.7,228.4 329.1,230.0 329.1,233.1 329.5,231.7 329.5,219.3 329.9,226.4 329.9,233.7 330.3,231.6 330.3,230.4 330.7,229.8 330.7,233.5 331.1,235.7 331.1,223.1 331.5,234.4 331.5,237.5 331.9,238.2 331.9,233.4 332.3,233.5 332.3,237.9 332.7,239.3 332.7,236.1 333.1,234.1 333.1,235.9 333.5,234.4 333.5,231.8 333.9,230.5 333.9,235.4 334.3,235.6 334.3,230.4 334.7,232.2 334.7,237.1 335.1,235.9 335.1,231.8 335.5,231.4 335.5,239.7 335.9,239.7 335.9,234.4 336.3,235.1 336.3,238.1 336.7,236.7 336.7,232.5 337.1,226.7 337.1,234.3 337.5,242.7 337.5,232.5 337.9,235.3 337.9,236.8 338.3,243.5 338.3,237.7 338.7,229.4 338.7,236.2 339.1,238.9 339.1,233.8 339.5,233.9 339.5,240.8 339.9,238.7 339.9,235.3 340.3,235.4 340.3,242.0 340.7,238.1 340.7,232.8 341.1,227.4 341.1,234.7 341.5,234.3 341.5,229.0 341.9,235.5 341.9,239.5 342.3,241.2 342.3,230.7 342.7,230.5 342.7,233.3 343.1,237.0 343.1,232.4 343.5,224.5 343.5,233.0 343.9,233.8 343.9,232.2 344.3,229.7 344.3,233.9 344.7,236.7 344.7,232.2 345.1,231.5 345.1,233.4 345.5,233.2 345.5,227.8 345.9,229.3 345.9,231.3 346.3,232.5 346.3,231.2 346.7,226.8 346.7,230.8 347.1,231.1 347.1,229.0 347.5,230.2 347.5,232.1 347.9,231.5 347.9,228.3 348.3,229.4 348.3,231.1 348.7,234.0 348.7,232.0 349.1,231.6 349.1,233.0 349.5,232.7 349.5,231.6 349.9,231.6 349.9,234.1 350.3,233.5 350.3,231.8 350.7,231.1 350.7,233.6 351.1,232.7 351.1,230.7 351.5,232.0 351.5,235.7 351.9,233.3 351.9,232.6 352.3,230.3 352.3,230.8 352.7,236.0 352.7,230.6 353.1,231.4 353.1,232.3 353.5,231.5 353.5,229.8 353.9,230.9 353.9,231.6 354.3,232.0 354.3,229.0 354.7,230.6 354.7,232.9 355.1,233.8 355.1,231.2 355.5,232.0 355.5,233.0 355.9,233.0 355.9,231.9 356.3,231.3 356.3,232.6 356.7,235.0 356.7,232.5 357.1,232.5 357.1,232.8 357.5,232.6 357.5,231.7 357.9,231.0 357.9,232.9 358.3,231.9 358.3,230.9 358.7,231.8 358.7,234.2 359.1,233.2 359.1,231.5 359.5,231.5 359.5,233.0 359.9,233.5 359.9,229.7 360.3,231.1 360.3,238.3 360.7,233.9 360.7,232.6 361.1,232.6 361.1,234.7 361.5,232.2 361.5,227.6 361.9,232.4 361.9,233.5 362.3,233.8 362.3,232.1 362.7,230.7 362.7,231.7 363.1,234.9 363.1,231.2 363.5,230.3 363.5,231.8 363.9,232.7 363.9,229.7 364.3,229.7 364.3,232.3 364.7,233.2 364.7,232.0 365.1,232.2 365.1,233.8 365.5,233.1 365.5,231.5 365.9,230.1 365.9,231.1 366.3,234.0 366.3,230.6 366.7,231.2 366.7,232.4 367.1,234.2 367.1,230.8 367.5,232.3 367.5,233.0 367.9,237.3 367.9,232.5 368.3,231.7 368.3,235.7 368.7,234.0 368.7,232.2 369.1,232.6 369.1,233.7 369.5,233.4 369.5,232.2 369.9,233.7 369.9,235.4 370.3,233.8 370.3,232.6 370.7,232.8 370.7,233.8 371.1,235.7 371.1,232.5 371.5,229.6 371.5,234.6 371.9,237.5 371.9,234.1 372.3,234.4 372.3,235.5 372.7,234.3 372.7,233.3 373.1,231.7 373.1,233.8 373.5,232.8 373.5,231.4 373.9,232.3 373.9,234.5 374.3,233.3 374.3,232.0 374.7,232.9 374.7,234.2 375.1,235.6 375.1,231.3 375.5,230.7 375.5,235.6 375.9,232.9 375.9,231.7 376.3,229.9 376.3,232.5 376.7,233.9 376.7,231.2 377.1,232.0 377.1,233.0 377.5,232.7 377.5,230.8 377.9,230.4 377.9,233.5 378.3,233.6 378.3,232.5 378.7,233.4 378.7,234.4 379.1,234.1 379.1,232.5 379.5,232.1 379.5,235.3 379.9,232.9 379.9,231.4 380.3,229.7 380.3,232.3 380.7,233.4 380.7,229.3 381.1,232.0 381.1,232.5 381.5,232.3 381.5,231.3 381.9,231.1 381.9,233.1 382.3,231.4 382.3,230.8 382.7,230.9 382.7,232.5 383.1,234.3 383.1,229.1 383.5,231.8 383.5,232.7 383.9,231.1 383.9,230.5 384.3,229.0 384.3,230.5 384.7,233.2 384.7,230.2 385.1,233.3 385.1,235.4 385.5,235.7 385.5,233.0 385.9,230.8 385.9,232.4 386.3,234.4 386.3,232.5 386.7,232.2 386.7,233.6 387.1,233.2 387.1,231.6 387.5,231.1 387.5,233.1 387.9,234.6 387.9,230.6 388.3,231.0 388.3,233.3 388.7,232.8 388.7,232.5 389.1,230.4 389.1,233.9 389.5,234.0 389.5,232.3 389.9,232.6 389.9,234.5 390.3,231.2 390.3,230.4 390.7,229.1 390.7,231.8 391.1,233.0 391.1,230.3 391.5,228.9 391.5,229.8 391.9,233.6 391.9,231.3 392.3,232.0 392.3,233.4 392.7,232.0 392.7,228.9 393.1,232.9 393.1,233.9 393.5,233.8 393.5,230.9 393.9,231.1 393.9,232.8 394.3,233.9 394.3,232.9 394.7,233.5 394.7,235.3 395.1,234.7 395.1,234.2 395.5,233.1 395.5,234.5 395.9,233.1 395.9,232.8 396.3,232.6 396.3,233.3 396.7,234.4 396.7,231.8 397.1,227.4 397.1,232.9 397.5,230.5 397.5,229.7 397.9,225.8 397.9,231.6 398.3,231.2 398.3,227.8 398.7,231.3 398.7,232.8 399.1,233.8 399.1,232.4 399.5,230.8 399.5,233.2 399.9,232.3 399.9,230.3 400.3,232.1 400.3,235.0 400.7,234.5 400.7,232.5 401.1,231.3 401.1,238.2 401.5,234.1 401.5,229.4 401.9,231.0 401.9,232.8 402.3,232.1 402.3,229.9 402.7,230.2 402.7,233.0 403.1,232.4 403.1,228.9 403.5,230.4 403.5,232.3 403.9,235.6 403.9,232.6 404.3,232.8 404.3,234.4 404.7,232.7 404.7,232.2 405.1,228.4 405.1,233.4 405.5,232.9 405.5,231.6 405.9,232.5 405.9,233.6 406.3,234.7 406.3,232.7 406.7,231.6 406.7,232.7 407.1,232.7 407.1,231.7 407.5,231.2 407.5,234.8 407.9,234.6 407.9,233.6 408.3,230.6 408.3,233.4 408.7,233.0 408.7,231.6 409.1,228.2 409.1,231.8 409.5,234.0 409.5,230.3 409.9,231.5 409.9,233.2 410.3,236.4 410.3,231.2 410.7,231.6 410.7,234.8 411.1,236.0 411.1,234.3 411.5,232.3 411.5,232.8 411.9,233.7 411.9,232.5 412.3,232.7 412.3,233.4 412.7,234.5 412.7,231.1 413.1,232.7 413.1,233.3 413.5,233.5 413.5,231.6 413.9,232.2 413.9,233.7 414.3,233.3 414.3,231.6 414.7,231.8 414.7,234.2 415.1,234.8 415.1,229.9 415.5,232.0 415.5,232.6 415.9,235.5 415.9,231.9 416.3,229.1 416.3,232.4 416.7,233.8 416.7,231.3 417.1,229.0 417.1,230.5 417.5,231.0 417.5,230.7 417.9,230.2 417.9,234.8 418.3,233.2 418.3,230.1 418.7,225.2 418.7,230.8 419.1,231.7 419.1,230.8 419.5,230.1 419.5,231.6 419.9,232.2 419.9,231.2 420.3,228.7 420.3,229.3 420.7,233.5 420.7,232.1 421.1,231.0 421.1,232.1 421.5,235.6 421.5,229.6 421.9,227.4 421.9,230.4 422.3,232.0 422.3,229.8 422.7,230.4 422.7,230.8 423.1,233.9 423.1,230.0 423.5,229.2 423.5,231.8 423.9,231.6 423.9,230.7 424.3,230.5 424.3,234.0 424.7,228.8 424.7,228.1 425.1,225.1 425.1,231.5 425.5,227.7 425.5,224.4 425.9,225.7 425.9,227.8 426.3,230.2 426.3,225.9 426.7,226.8 426.7,229.4 427.1,228.7 427.1,224.6 427.5,222.4 427.5,227.4 427.9,226.7 427.9,218.2 428.3,225.1 428.3,228.7 428.7,226.7 428.7,224.6 429.1,222.9 429.1,224.7 429.5,225.2 429.5,222.6 429.9,224.2 429.9,234.6 430.3,228.2 430.3,225.3 430.7,229.1 430.7,230.0 431.1,230.2 431.1,224.8 431.5,228.9 431.5,230.5 431.9,232.5 431.9,230.0 432.3,227.2 432.3,229.4 432.7,229.0 432.7,226.5 433.1,229.3 433.1,231.9 433.5,230.1 433.5,227.2 433.9,226.3 433.9,229.0 434.3,225.9 434.3,225.1 434.7,225.4 434.7,227.6 435.1,227.9 435.1,225.3 435.5,225.3 435.5,227.5 435.9,225.0 435.9,222.5 436.3,224.8 436.3,228.4 436.7,225.8 436.7,225.0 437.1,225.5 437.1,229.3 437.5,227.0 437.5,225.5 437.9,224.2 437.9,228.6 438.3,230.2 438.3,227.5 438.7,224.2 438.7,228.7 439.1,226.4 439.1,225.4 439.5,224.4 439.5,226.0 439.9,226.4 439.9,225.1 440.3,225.6 440.3,229.8 440.7,228.8 440.7,225.1 441.1,227.6 441.1,229.3 441.5,226.1 441.5,222.2 441.9,226.7 441.9,229.4 442.3,229.8 442.3,227.2 442.7,226.2 442.7,231.5 443.1,226.7 443.1,224.6 443.5,224.2 443.5,231.1 443.9,227.7 443.9,226.8 444.3,229.2 444.3,230.6 444.7,228.5 444.7,223.4 445.1,227.6 445.1,230.4 445.5,230.4 445.5,228.5 445.9,224.7 445.9,229.0 446.3,230.6 446.3,229.2 446.7,228.6 446.7,230.7 447.1,230.2 447.1,227.7 447.5,227.4 447.5,229.5 447.9,232.0 447.9,228.2 448.3,225.8 448.3,230.6 448.7,229.2 448.7,227.6 449.1,226.0 449.1,227.4 449.5,228.1 449.5,224.9 449.9,227.7 449.9,229.2 450.3,231.1 450.3,229.6 450.7,227.2 450.7,229.6 451.1,229.7 451.1,229.1 451.5,224.9 451.5,228.4 451.9,229.0 451.9,226.2 452.3,227.1 452.3,229.4 452.7,230.4 452.7,227.9 453.1,226.1 453.1,228.1 453.5,229.6 453.5,226.7 453.9,224.7 453.9,227.2 454.3,227.3 454.3,223.5 454.7,226.4 454.7,227.4 455.1,230.6 455.1,225.4 455.5,227.6 455.5,230.0 455.9,228.3 455.9,227.2 456.3,224.2 456.3,225.7 456.7,227.5 456.7,224.5 457.1,223.6 457.1,226.7 457.5,227.2 457.5,224.4 457.9,227.9 457.9,230.4 458.3,228.8 458.3,227.3 458.7,228.6 458.7,231.9 459.1,227.7 459.1,226.6 459.5,228.5 459.5,228.9 459.9,229.0 459.9,228.4 460.3,226.6 460.3,228.0 460.7,229.2 460.7,227.7 461.1,227.1 461.1,229.0 461.5,230.5 461.5,226.7 461.9,225.8 461.9,230.5 462.3,228.6 462.3,225.3 462.7,225.3 462.7,226.7 463.1,226.9 463.1,225.7 463.5,225.4 463.5,227.2 463.9,226.8 463.9,225.2 464.3,226.6 464.3,226.9 464.7,227.5 464.7,224.9 465.1,226.6 465.1,228.4 465.5,227.5 465.5,226.1 465.9,226.3 465.9,227.3 466.3,227.7 466.3,227.1 466.7,225.0 466.7,226.2 467.1,224.9 467.1,223.3 467.5,222.3 467.5,224.1 467.9,227.4 467.9,223.6 468.3,221.8 468.3,224.6 468.7,225.9 468.7,223.2 469.1,223.3 469.1,229.1 469.5,225.5 469.5,222.8 469.9,225.1 469.9,226.3 470.3,226.0 470.3,225.2 470.7,225.3 470.7,226.5 471.1,229.0 471.1,225.3 471.5,223.7 471.5,226.4 471.9,225.1 471.9,224.4 472.3,224.3 472.3,226.5 472.7,236.2 472.7,226.8 473.1,222.8 473.1,225.0 473.5,228.3 473.5,225.4 473.9,224.1 473.9,225.3 474.3,225.3 474.3,224.5 474.7,224.7 474.7,226.7 475.1,225.0 475.1,224.0 475.5,222.1 475.5,226.6 475.9,223.5 475.9,222.5 476.3,218.2 476.3,223.3 476.7,224.7 476.7,222.6 477.1,224.4 477.1,229.3 477.5,224.5 477.5,221.1 477.9,223.1 477.9,225.6 478.3,224.4 478.3,222.7 478.7,222.3 478.7,225.3 479.1,223.8 479.1,222.2 479.5,221.2 479.5,224.1 479.9,224.2 479.9,223.2 480.3,224.7 480.3,227.3 480.7,226.4 480.7,222.7 481.1,221.5 481.1,224.2 481.5,221.4 481.5,221.1 481.9,221.3 481.9,224.1 482.3,223.9 482.3,222.0 482.7,219.7 482.7,223.4 483.1,222.4 483.1,218.4 483.5,222.7 483.5,225.3 483.9,225.2 483.9,221.8 484.3,221.9 484.3,224.0 484.7,224.1 484.7,221.9 485.1,222.3 485.1,224.1 485.5,226.1 485.5,224.8 485.9,222.1 485.9,225.5 486.3,225.8 486.3,224.5 486.7,222.6 486.7,224.2 487.1,224.6 487.1,223.2 487.5,223.5 487.5,225.4 487.9,227.0 487.9,223.1 488.3,222.7 488.3,225.9 488.7,225.7 488.7,224.2 489.1,221.7 489.1,224.6 489.5,223.3 489.5,222.3 489.9,221.7 489.9,224.5 490.3,223.7 490.3,221.7 490.7,220.9 490.7,223.4 491.1,223.1 491.1,221.9 491.5,222.1 491.5,224.1 491.9,225.4 491.9,222.1 492.3,221.7 492.3,229.0 492.7,226.5 492.7,224.2 493.1,226.0 493.1,227.6 493.5,226.9 493.5,224.5 493.9,225.1 493.9,229.7 494.3,226.6 494.3,225.2 494.7,227.6 494.7,228.3 495.1,226.0 495.1,225.3 495.5,221.6 495.5,227.7 495.9,227.7 495.9,223.7 496.3,225.2 496.3,229.0 496.7,227.6 496.7,225.5 497.1,226.3 497.1,227.3 497.5,226.7 497.5,225.3 497.9,224.2 497.9,227.3 498.3,226.5 498.3,224.5 498.7,226.2 498.7,228.3 499.1,226.4 499.1,224.5 499.5,225.3 499.5,228.6 499.9,229.4 499.9,226.1 500.3,225.7 500.3,230.6 500.7,229.3 500.7,226.9 501.1,226.9 501.1,229.1 501.5,229.4 501.5,228.4 501.9,226.1 501.9,229.7 502.3,228.1 502.3,225.7 502.7,224.4 502.7,226.6 503.1,227.0 503.1,225.1 503.5,227.1 503.5,228.5 503.9,230.0 503.9,228.0 504.3,227.5 504.3,229.4 504.7,230.7 504.7,228.0 505.1,228.8 505.1,231.7 505.5,228.8 505.5,225.8 505.9,227.3 505.9,229.2 506.3,231.0 506.3,227.3 506.7,227.2 506.7,228.3 507.1,227.3 507.1,226.7 507.5,226.9 507.5,229.8 507.9,228.5 507.9,227.6 508.3,227.3 508.3,228.7 508.7,227.6 508.7,227.1 509.1,227.3 509.1,228.8 509.5,227.5 509.5,224.9 509.9,223.5 509.9,228.3 510.3,229.1 510.3,227.4 510.7,221.3 510.7,226.1 511.1,228.4 511.1,225.5 511.5,223.0 511.5,226.4 511.9,227.4 511.9,222.6 512.3,224.6 512.3,225.7 512.7,225.0 512.7,222.3 513.1,223.7 513.1,224.6 513.5,223.5 513.5,222.8 513.9,226.3 513.9,227.9 514.3,229.1 514.3,227.1 514.7,226.4 514.7,231.4 515.1,230.0 515.1,224.8" stroke="#233a8a" stroke-width="0.95"/><path d="M42.3,233.5 L42.5,212.0 L42.7,233.5 M42.6,233.5 L42.8,249.6 L43.0,233.5 M47.3,233.5 L47.5,216.0 L47.7,233.5 M62.3,233.1 L62.5,208.0 L62.7,233.1 M65.8,232.6 L66.0,198.0 L66.2,232.6 M63.8,232.9 L64.0,247.0 L64.2,232.9 M59.8,233.5 L60.0,246.0 L60.2,233.5 M51.8,233.5 L52.0,243.0 L52.2,233.5 M54.8,233.5 L55.0,218.0 L55.2,233.5 M104.8,236.0 L105.0,250.5 L105.2,236.0 M111.8,236.0 L112.0,218.0 L112.2,236.0 M138.6,235.0 L138.8,224.4 L139.0,235.0 M138.3,235.0 L138.5,248.5 L138.7,235.0 M150.8,234.1 L151.0,221.0 L151.2,234.1 M151.3,234.0 L151.5,240.0 L151.7,234.0 M166.8,231.9 L167.0,222.0 L167.2,231.9 M185.8,224.7 L186.0,215.0 L186.2,224.7 M191.8,222.0 L192.0,212.8 L192.2,222.0 M207.8,219.4 L208.0,213.9 L208.2,219.4 M305.8,223.9 L306.0,203.4 L306.2,223.9 M311.8,222.3 L312.0,211.8 L312.2,222.3 M314.8,224.6 L315.0,212.0 L315.2,224.6 M328.8,232.3 L329.0,218.0 L329.2,232.3 M329.8,232.7 L330.0,253.7 L330.2,232.7 M324.8,230.6 L325.0,240.0 L325.2,230.6 M340.8,232.7 L341.0,209.7 L341.2,232.7 M342.3,232.7 L342.5,262.0 L342.7,232.7 M338.8,232.7 L339.0,249.5 L339.2,232.7 M388.8,232.7 L389.0,223.3 L389.2,232.7 M401.8,232.7 L402.0,219.0 L402.2,232.7 M403.8,232.7 L404.0,245.3 L404.2,232.7 M406.8,232.7 L407.0,219.0 L407.2,232.7 M431.8,227.2 L432.0,219.0 L432.2,227.2 M444.8,226.3 L445.0,240.0 L445.2,226.3 M439.8,225.8 L440.0,218.0 L440.2,225.8 M455.3,227.4 L455.5,241.6 L455.7,227.4 M458.3,227.4 L458.5,203.0 L458.7,227.4 M492.8,224.7 L493.0,218.0 L493.2,224.7 M505.8,227.5 L506.0,233.7 L506.2,227.5" stroke="#3c58a8" stroke-width="0.6"/></g><g clip-path="url(#c3)" fill="none"><path d="M42.3,373.6 42.3,370.5 42.8,370.2 42.8,371.0 43.3,370.9 43.3,369.2 43.8,370.5 43.8,372.9 44.3,372.5 44.3,371.4 44.8,369.8 44.8,371.4 45.3,372.7 45.3,372.3 45.8,371.1 45.8,372.3 46.3,373.4 46.3,371.8 46.8,371.7 46.8,372.7 47.3,374.1 47.3,372.6 47.8,371.6 47.8,374.0 48.3,373.9 48.3,373.1 48.8,373.3 48.8,373.7 49.3,373.4 49.3,372.5 49.8,372.7 49.8,377.1 50.3,374.4 50.3,373.2 50.8,372.9 50.8,373.8 51.3,373.5 51.3,372.9 51.8,373.6 51.8,374.7 52.3,374.4 52.3,373.5 52.8,372.6 52.8,374.3 53.3,374.4 53.3,372.5 53.8,371.9 53.8,373.3 54.3,373.4 54.3,372.1 54.8,370.7 54.8,372.1 55.3,372.7 55.3,371.9 55.8,371.6 55.8,371.9 56.3,372.8 56.3,372.4 56.8,373.4 56.8,373.6 57.3,373.8 57.3,372.7 57.8,373.1 57.8,373.8 58.3,373.7 58.3,373.2 58.8,373.1 58.8,374.2 59.3,374.0 59.3,372.8 59.8,373.1 59.8,373.4 60.3,374.4 60.3,372.6 60.8,373.1 60.8,374.1 61.3,373.9 61.3,373.6 61.8,373.5 61.8,374.4 62.3,374.7 62.3,373.1 62.8,372.5 62.8,372.9 63.3,372.4 63.3,371.9 63.8,371.4 63.8,372.8 64.3,373.3 64.3,372.6 64.8,373.3 64.8,373.7 65.3,374.4 65.3,373.7 65.8,373.7 65.8,374.5 66.3,374.3 66.3,372.0 66.8,372.3 66.8,373.5 67.3,373.2 67.3,372.0 67.8,372.4 67.8,372.6 68.3,372.9 68.3,371.9 68.8,372.5 68.8,373.7 69.3,373.5 69.3,372.7 69.8,372.6 69.8,372.8 70.3,372.7 70.3,372.5 70.8,372.8 70.8,373.6 71.3,374.5 71.3,374.0 71.8,373.9 71.8,374.9 72.3,374.3 72.3,373.7 72.8,372.8 72.8,373.7 73.3,374.0 73.3,372.9 73.8,371.9 73.8,372.9 74.3,373.0 74.3,372.7 74.8,373.0 74.8,373.1 75.3,374.1 75.3,373.3 75.8,373.4 75.8,374.2 76.3,373.9 76.3,373.6 76.8,372.6 76.8,373.7 77.3,374.0 77.3,370.3 77.8,371.8 77.8,372.6 78.3,373.1 78.3,370.7 78.8,373.3 78.8,374.4 79.3,374.3 79.3,373.6 79.8,373.5 79.8,374.2 80.3,374.0 80.3,373.6 80.8,373.8 80.8,374.1 81.3,374.6 81.3,374.1 81.8,374.2 81.8,374.6 82.3,374.4 82.3,374.3 82.8,372.8 82.8,373.3 83.3,372.7 83.3,372.0 83.8,372.9 83.8,374.4 84.3,373.2 84.3,371.7 84.8,373.0 84.8,373.7 85.3,373.2 85.3,372.5 85.8,372.4 85.8,372.5 86.3,372.5 86.3,371.9 86.8,373.0 86.8,375.2 87.3,372.5 87.3,372.3 87.8,371.9 87.8,372.5 88.3,373.8 88.3,372.1 88.8,372.5 88.8,372.8 89.3,372.8 89.3,371.9 89.8,372.3 89.8,372.5 90.3,372.8 90.3,372.1 90.8,371.8 90.8,372.5 91.3,372.7 91.3,372.0 91.8,372.1 91.8,373.0 92.3,373.2 92.3,372.5 92.8,372.2 92.8,372.8 93.3,373.0 93.3,372.0 93.8,372.5 93.8,373.1 94.3,373.0 94.3,372.7 94.8,372.2 94.8,373.2 95.3,372.9 95.3,372.5 95.8,372.3 95.8,372.8 96.3,372.4 96.3,372.2 96.8,372.2 96.8,372.7 97.3,373.2 97.3,372.7 97.8,372.3 97.8,372.8 98.3,373.6 98.3,373.1 98.8,373.0 98.8,373.7 99.3,373.0 99.3,372.9 99.8,373.2 99.8,373.7 100.3,373.6 100.3,373.2 100.8,372.6 100.8,373.4 101.3,373.4 101.3,373.2 101.8,372.0 101.8,373.0 102.3,372.7 102.3,372.6 102.8,372.7 102.8,373.3 103.3,372.9 103.3,372.4 103.8,372.2 103.8,373.2 104.3,373.7 104.3,372.9 104.8,373.6 104.8,374.0 105.3,374.0 105.3,373.6 105.8,373.7 105.8,373.9 106.3,373.9 106.3,373.4 106.8,373.0 106.8,374.1 107.3,373.8 107.3,372.6 107.8,373.4 107.8,373.8 108.3,373.8 108.3,373.0 108.8,373.1 108.8,373.5 109.3,373.8 109.3,373.0 109.8,372.9 109.8,373.4 110.3,374.5 110.3,373.4 110.8,373.2 110.8,373.7 111.3,373.8 111.3,373.4 111.8,373.6 111.8,373.8 112.3,373.3 112.3,373.3 112.8,373.1 112.8,373.9 113.3,373.7 113.3,372.4 113.8,373.1 113.8,373.6 114.3,373.4 114.3,373.3 114.8,372.7 114.8,373.5 115.3,373.5 115.3,372.9 115.8,372.9 115.8,373.6 116.3,373.0 116.3,372.7 116.8,372.1 116.8,372.7 117.3,372.5 117.3,372.1 117.8,372.5 117.8,372.9 118.3,372.9 118.3,372.3 118.8,372.0 118.8,373.0 119.3,372.6 119.3,372.3 119.8,372.2 119.8,373.0 120.3,372.7 120.3,372.2 120.8,372.4 120.8,373.2 121.3,373.4 121.3,372.6 121.8,372.6 121.8,373.1 122.3,373.0 122.3,372.4 122.8,372.6 122.8,373.3 123.3,373.4 123.3,372.6 123.8,373.5 123.8,373.8 124.3,373.4 124.3,373.1 124.8,373.0 124.8,373.5 125.3,373.2 125.3,372.4 125.8,372.5 125.8,373.2 126.3,373.2 126.3,372.3 126.8,372.4 126.8,372.5 127.3,373.0 127.3,372.3 127.8,371.5 127.8,372.7 128.3,373.3 128.3,372.8 128.8,372.9 128.8,373.7 129.3,373.2 129.3,372.7 129.8,372.6 129.8,373.1 130.3,373.1 130.3,372.5 130.8,373.0 130.8,373.4 131.3,374.0 131.3,372.1 131.8,373.4 131.8,373.7 132.3,373.7 132.3,373.4 132.8,373.1 132.8,373.4 133.3,373.0 133.3,372.5 133.8,372.5 133.8,373.0 134.3,372.9 134.3,372.6 134.8,372.6 134.8,373.0 135.3,373.2 135.3,372.9 135.8,372.7 135.8,374.0 136.3,373.0 136.3,372.2 136.8,372.8 136.8,373.2 137.3,373.3 137.3,372.9 137.8,372.8 137.8,373.1 138.3,373.7 138.3,372.7 138.8,372.6 138.8,373.0 139.3,373.3 139.3,372.6 139.8,372.5 139.8,373.1 140.3,373.3 140.3,372.3 140.8,372.7 140.8,373.2 141.3,372.9 141.3,372.8 141.8,373.2 141.8,373.5 142.3,373.6 142.3,373.3 142.8,373.1 142.8,373.7 143.3,373.5 143.3,372.8 143.8,373.2 143.8,373.7 144.3,373.4 144.3,372.9 144.8,373.1 144.8,373.6 145.3,373.3 145.3,373.2 145.8,373.1 145.8,373.4 146.3,373.0 146.3,372.7 146.8,372.8 146.8,373.2 147.3,373.3 147.3,373.2 147.8,373.4 147.8,373.5 148.3,374.1 148.3,373.4 148.8,373.7 148.8,374.0 149.3,373.4 149.3,373.1 149.8,373.6 149.8,373.6 150.3,373.7 150.3,373.3 150.8,372.9 150.8,373.8 151.3,373.4 151.3,373.0 151.8,372.9 151.8,373.6 152.3,373.2 152.3,372.2 152.8,373.3 152.8,373.4 153.3,372.6 153.3,372.3 153.8,372.6 153.8,373.0 154.3,373.1 154.3,372.9 154.8,372.7 154.8,373.0 155.3,373.4 155.3,372.7 155.8,372.2 155.8,372.7 156.3,373.1 156.3,372.1 156.8,372.4 156.8,372.5 157.3,372.5 157.3,372.0 157.8,372.3 157.8,373.1 158.3,373.0 158.3,372.4 158.8,372.2 158.8,372.8 159.3,373.0 159.3,372.1 159.8,372.7 159.8,373.5 160.3,373.1 160.3,372.4 160.8,372.4 160.8,373.0 161.3,373.0 161.3,372.8 161.8,373.0 161.8,373.4 162.3,373.5 162.3,373.1 162.8,372.8 162.8,373.0 163.3,373.4 163.3,372.7 163.8,373.6 163.8,373.8 164.3,373.7 164.3,372.2 164.8,373.7 164.8,374.4 165.3,373.5 165.3,373.2 165.8,373.2 165.8,373.6 166.3,373.1 166.3,372.8 166.8,373.4 166.8,373.6 167.3,373.9 167.3,372.8 167.8,373.2 167.8,374.3 168.3,373.5 168.3,373.1 168.8,372.4 168.8,373.1 169.3,373.8 169.3,372.9 169.8,372.8 169.8,373.5 170.3,373.4 170.3,373.1 170.8,373.0 170.8,373.4 171.3,373.9 171.3,373.6 171.8,373.1 171.8,373.5 172.3,373.7 172.3,373.3 172.8,373.7 172.8,374.1 173.3,373.6 173.3,373.1 173.8,372.2 173.8,373.0 174.3,373.0 174.3,372.5 174.8,372.9 174.8,373.4 175.3,373.5 175.3,372.2 175.8,372.3 175.8,372.5 176.3,373.0 176.3,372.5 176.8,372.3 176.8,372.4 177.3,372.2 177.3,372.0 177.8,372.0 177.8,372.5 178.3,372.0 178.3,371.8 178.8,371.8 178.8,372.4 179.3,373.0 179.3,371.7 179.8,372.1 179.8,372.6 180.3,372.2 180.3,372.0 180.8,372.0 180.8,372.3 181.3,372.5 181.3,372.1 181.8,371.8 181.8,372.7 182.3,372.6 182.3,372.0 182.8,372.2 182.8,372.5 183.3,372.4 183.3,372.1 183.8,371.5 183.8,373.1 184.3,372.5 184.3,371.7 184.8,371.0 184.8,372.7 185.3,372.5 185.3,372.2 185.8,371.3 185.8,373.1 186.3,375.0 186.3,371.3 186.8,370.4 186.8,371.8 187.3,372.1 187.3,370.8 187.8,371.1 187.8,371.9 188.3,373.2 188.3,372.2 188.8,373.0 188.8,374.8 189.3,373.6 189.3,371.7 189.8,371.4 189.8,373.3 190.3,373.8 190.3,373.1 190.8,372.4 190.8,374.5 191.3,374.9 191.3,372.6 191.8,370.5 191.8,374.1 192.3,375.3 192.3,373.5 192.8,372.7 192.8,375.1 193.3,378.0 193.3,372.9 193.8,373.2 193.8,374.9 194.3,374.6 194.3,373.4 194.8,373.7 194.8,376.3 195.3,374.7 195.3,373.2 195.8,373.4 195.8,374.5 196.3,373.4 196.3,372.5 196.8,371.8 196.8,375.8 197.3,373.8 197.3,373.2 197.8,370.9 197.8,372.0 198.3,372.5 198.3,369.8 198.8,370.0 198.8,372.9 199.3,372.7 199.3,371.0 199.8,372.8 199.8,373.9 200.3,371.1 200.3,370.3 200.8,371.7 200.8,373.9 201.3,373.3 201.3,371.0 201.8,372.2 201.8,375.6 202.3,374.2 202.3,372.6 202.8,372.2 202.8,373.9 203.3,372.8 203.3,372.1 203.8,369.2 203.8,372.6 204.3,375.9 204.3,372.9 204.8,372.9 204.8,375.1 205.3,374.7 205.3,373.2 205.8,372.2 205.8,374.7 206.3,373.3 206.3,372.5 206.8,371.9 206.8,374.4 207.3,373.0 207.3,372.3 207.8,371.7 207.8,374.1 208.3,372.9 208.3,371.6 208.8,373.4 208.8,373.9 209.3,374.1 209.3,373.1 209.8,372.3 209.8,373.1 210.3,373.5 210.3,372.1 210.8,372.1 210.8,373.3 211.3,373.6 211.3,372.7 211.8,373.2 211.8,373.8 212.3,374.2 212.3,373.1 212.8,371.9 212.8,373.0 213.3,373.6 213.3,372.8 213.8,371.8 213.8,372.0 214.3,373.3 214.3,372.6 214.8,370.5 214.8,375.3 215.3,374.8 215.3,373.3 215.8,372.7 215.8,373.9 216.3,374.0 216.3,373.1 216.8,372.8 216.8,375.0 217.3,374.1 217.3,372.5 217.8,373.5 217.8,374.6 218.3,373.6 218.3,373.2 218.8,373.8 218.8,378.4 219.3,373.3 219.3,372.9 219.8,373.2 219.8,373.9 220.3,374.1 220.3,372.6 220.8,372.4 220.8,374.1 221.3,373.3 221.3,372.2 221.8,370.8 221.8,373.3 222.3,371.9 222.3,370.6 222.8,370.6 222.8,371.5 223.3,371.8 223.3,370.4 223.8,372.2 223.8,373.2 224.3,375.6 224.3,373.3 224.8,371.3 224.8,372.4 225.3,373.5 225.3,372.7 225.8,372.1 225.8,374.1 226.3,374.7 226.3,372.9 226.8,373.0 226.8,373.9 227.3,374.4 227.3,373.8 227.8,372.8 227.8,374.3 228.3,373.4 228.3,371.6 228.8,372.5 228.8,374.0 229.3,374.4 229.3,372.8 229.8,372.3 229.8,373.5 230.3,373.7 230.3,372.2 230.8,373.4 230.8,373.6 231.3,373.0 231.3,372.9 231.8,371.9 231.8,373.1 232.3,372.4 232.3,371.4 232.8,371.2 232.8,372.5 233.3,372.4 233.3,371.9 233.8,371.5 233.8,372.6 234.3,373.1 234.3,371.6 234.8,372.8 234.8,375.3 235.3,374.8 235.3,370.5 235.8,373.4 235.8,375.0 236.3,375.2 236.3,374.3 236.8,374.9 236.8,375.2 237.3,374.5 237.3,373.2 237.8,373.0 237.8,373.8 238.3,373.9 238.3,372.3 238.8,371.7 238.8,374.7 239.3,372.2 239.3,371.3 239.8,373.5 239.8,375.0 240.3,373.3 240.3,373.0 240.8,372.1 240.8,373.8 241.3,373.6 241.3,371.5 241.8,371.0 241.8,372.9 242.3,374.0 242.3,373.0 242.8,373.2 242.8,374.0 243.3,374.3 243.3,372.4 243.8,373.1 243.8,373.9 244.3,374.3 244.3,373.2 244.8,372.3 244.8,373.1 245.3,373.5 245.3,372.0 245.8,372.4 245.8,374.1 246.3,373.4 246.3,373.0 246.8,372.7 246.8,374.7 247.3,374.3 247.3,373.6 247.8,373.3 247.8,374.1 248.3,373.7 248.3,372.4 248.8,372.9 248.8,375.6 249.3,373.0 249.3,372.6 249.8,371.6 249.8,373.4 250.3,373.2 250.3,371.3 250.8,372.8 250.8,373.5 251.3,372.9 251.3,372.4 251.8,370.8 251.8,372.7 252.3,373.3 252.3,372.3 252.8,372.3 252.8,372.7 253.3,374.1 253.3,373.2 253.8,374.1 253.8,374.6 254.3,376.3 254.3,375.1 254.8,373.8 254.8,374.6 255.3,374.1 255.3,373.7 255.8,373.0 255.8,373.9 256.3,373.4 256.3,372.2 256.8,373.8 256.8,374.6 257.3,374.7 257.3,373.0 257.8,373.4 257.8,374.0 258.3,374.3 258.3,373.7 258.8,371.5 258.8,374.1 259.3,374.8 259.3,372.8 259.8,374.2 259.8,375.0 260.3,374.4 260.3,374.2 260.8,373.2 260.8,373.8 261.3,375.8 261.3,372.0 261.8,373.7 261.8,374.6 262.3,373.9 262.3,372.8 262.8,373.1 262.8,375.4 263.3,374.0 263.3,373.2 263.8,373.6 263.8,374.8 264.3,375.0 264.3,373.3 264.8,373.1 264.8,373.3 265.3,374.8 265.3,372.9 265.8,373.3 265.8,374.0 266.3,377.7 266.3,375.2 266.8,373.6 266.8,375.0 267.3,375.0 267.3,374.3 267.8,374.6 267.8,375.8 268.3,375.5 268.3,373.9 268.8,372.8 268.8,375.0 269.3,375.9 269.3,375.1 269.8,374.0 269.8,375.0 270.3,374.3 270.3,373.7 270.8,373.2 270.8,375.2 271.3,373.2 271.3,371.3 271.8,371.5 271.8,372.6 272.3,372.5 272.3,371.6 272.8,370.4 272.8,370.9 273.3,371.3 273.3,370.4 273.8,371.2 273.8,372.7 274.3,372.1 274.3,371.7 274.8,371.8 274.8,373.7 275.3,374.2 275.3,372.5 275.8,373.2 275.8,373.6 276.3,375.9 276.3,373.2 276.8,373.4 276.8,374.4 277.3,374.4 277.3,372.9 277.8,372.2 277.8,374.7 278.3,374.5 278.3,374.2 278.8,372.9 278.8,374.7 279.3,373.3 279.3,373.1 279.8,372.6 279.8,374.1 280.3,373.1 280.3,372.3 280.8,371.5 280.8,373.3 281.3,374.2 281.3,372.1 281.8,372.4 281.8,374.1 282.3,373.4 282.3,372.7 282.8,374.7 282.8,380.2 283.3,373.8 283.3,373.3 283.8,372.8 283.8,374.2 284.3,374.1 284.3,373.4 284.8,370.7 284.8,374.1 285.3,373.4 285.3,372.7 285.8,372.8 285.8,373.0 286.3,373.6 286.3,372.0 286.8,372.4 286.8,372.9 287.3,370.8 287.3,370.0 287.8,372.4 287.8,373.3 288.3,373.3 288.3,372.4 288.8,372.5 288.8,374.0 289.3,374.3 289.3,374.1 289.8,373.3 289.8,374.2 290.3,375.8 290.3,373.5 290.8,372.4 290.8,373.9 291.3,373.0 291.3,372.4 291.8,371.9 291.8,373.6 292.3,373.5 292.3,372.9 292.8,371.6 292.8,372.7 293.3,372.6 293.3,371.8 293.8,372.2 293.8,373.1 294.3,371.9 294.3,371.3 294.8,372.6 294.8,373.3 295.3,372.8 295.3,371.4 295.8,371.7 295.8,371.9 296.3,372.7 296.3,372.2 296.8,372.0 296.8,372.5 297.3,374.1 297.3,372.5 297.8,372.6 297.8,372.8 298.3,373.4 298.3,372.6 298.8,372.9 298.8,373.0 299.3,373.2 299.3,371.8 299.8,371.8 299.8,373.2 300.3,373.2 300.3,373.0 300.8,372.5 300.8,373.8 301.3,374.4 301.3,373.1 301.8,373.2 301.8,373.8 302.3,373.7 302.3,372.8 302.8,373.0 302.8,373.6 303.3,373.6 303.3,372.9 303.8,373.4 303.8,374.0 304.3,372.6 304.3,372.4 304.8,372.3 304.8,372.9 305.3,373.6 305.3,372.3 305.8,372.7 305.8,372.9 306.3,373.2 306.3,372.8 306.8,372.1 306.8,373.0 307.3,373.0 307.3,372.7 307.8,372.7 307.8,373.1 308.3,373.4 308.3,372.9 308.8,373.3 308.8,373.7 309.3,373.5 309.3,372.7 309.8,373.0 309.8,373.6 310.3,373.3 310.3,372.4 310.8,372.8 310.8,373.5 311.3,373.8 311.3,372.9 311.8,373.0 311.8,373.9 312.3,373.4 312.3,372.2 312.8,371.9 312.8,372.8 313.3,373.8 313.3,372.5 313.8,372.4 313.8,372.7 314.3,373.4 314.3,372.4 314.8,372.4 314.8,372.8 315.3,372.3 315.3,371.7 315.8,371.3 315.8,372.3 316.3,374.7 316.3,373.8 316.8,371.8 316.8,373.1 317.3,373.2 317.3,372.2 317.8,372.8 317.8,372.9 318.3,373.0 318.3,372.2 318.8,372.4 318.8,372.6 319.3,373.3 319.3,372.5 319.8,372.3 319.8,373.4 320.3,373.4 320.3,372.5 320.8,373.4 320.8,373.8 321.3,373.8 321.3,373.3 321.8,373.1 321.8,373.8 322.3,372.9 322.3,372.8 322.8,372.2 322.8,372.9 323.3,373.0 323.3,371.9 323.8,372.0 323.8,373.0 324.3,373.3 324.3,372.5 324.8,372.7 324.8,373.3 325.3,373.3 325.3,373.2 325.8,372.4 325.8,373.8 326.3,373.7 326.3,372.8 326.8,373.1 326.8,374.0 327.3,372.7 327.3,371.6 327.8,372.3 327.8,372.9 328.3,373.4 328.3,370.5 328.8,371.9 328.8,373.6 329.3,372.8 329.3,370.8 329.8,372.7 329.8,373.6 330.3,376.0 330.3,372.8 330.8,372.9 330.8,373.5 331.3,374.1 331.3,371.4 331.8,372.0 331.8,374.0 332.3,374.5 332.3,372.8 332.8,369.5 332.8,373.6 333.3,373.6 333.3,370.5 333.8,372.5 333.8,373.5 334.3,373.7 334.3,371.8 334.8,372.8 334.8,374.0 335.3,373.3 335.3,372.1 335.8,374.1 335.8,376.9 336.3,376.0 336.3,374.1 336.8,373.9 336.8,375.8 337.3,373.2 337.3,371.3 337.8,373.9 337.8,374.1 338.3,373.9 338.3,373.0 338.8,372.8 338.8,374.9 339.3,374.1 339.3,373.8 339.8,372.5 339.8,373.4 340.3,373.0 340.3,371.5 340.8,373.6 340.8,374.9 341.3,374.5 341.3,372.6 341.8,372.5 341.8,374.6 342.3,373.6 342.3,372.8 342.8,371.2 342.8,372.9 343.3,372.4 343.3,372.1 343.8,372.3 343.8,375.7 344.3,375.1 344.3,373.4 344.8,372.4 344.8,372.9 345.3,374.4 345.3,371.7 345.8,372.2 345.8,374.1 346.3,374.2 346.3,372.7 346.8,372.7 346.8,373.1 347.3,374.3 347.3,372.6 347.8,373.7 347.8,374.4 348.3,373.8 348.3,373.0 348.8,372.5 348.8,372.9 349.3,373.3 349.3,373.1 349.8,372.3 349.8,372.8 350.3,372.9 350.3,372.5 350.8,372.5 350.8,372.8 351.3,373.0 351.3,372.4 351.8,372.0 351.8,373.7 352.3,373.0 352.3,371.3 352.8,371.9 352.8,372.5 353.3,372.3 353.3,372.2 353.8,371.9 353.8,372.3 354.3,372.9 354.3,372.3 354.8,371.8 354.8,372.0 355.3,372.7 355.3,372.1 355.8,372.7 355.8,373.0 356.3,373.0 356.3,372.8 356.8,372.4 356.8,373.1 357.3,372.8 357.3,372.3 357.8,372.1 357.8,372.8 358.3,372.6 358.3,372.1 358.8,372.4 358.8,372.8 359.3,372.9 359.3,371.5 359.8,372.0 359.8,372.6 360.3,372.4 360.3,372.1 360.8,372.1 360.8,372.9 361.3,372.3 361.3,371.8 361.8,371.8 361.8,372.4 362.3,373.0 362.3,372.2 362.8,370.8 362.8,372.7 363.3,373.0 363.3,372.1 363.8,371.8 363.8,372.0 364.3,372.6 364.3,372.1 364.8,372.3 364.8,372.9 365.3,372.8 365.3,372.3 365.8,372.1 365.8,373.0 366.3,372.0 366.3,371.3 366.8,371.6 366.8,372.4 367.3,372.8 367.3,371.4 367.8,371.1 367.8,372.3 368.3,372.4 368.3,371.6 368.8,372.2 368.8,372.7 369.3,373.4 369.3,372.7 369.8,372.6 369.8,373.0 370.3,373.0 370.3,372.7 370.8,372.8 370.8,373.2 371.3,373.5 371.3,372.3 371.8,372.6 371.8,373.0 372.3,372.8 372.3,371.6 372.8,372.4 372.8,373.0 373.3,374.4 373.3,372.1 373.8,372.7 373.8,373.1 374.3,372.8 374.3,372.2 374.8,370.6 374.8,372.4 375.3,372.5 375.3,372.0 375.8,372.2 375.8,372.8 376.3,372.3 376.3,372.1 376.8,372.0 376.8,372.7 377.3,372.8 377.3,372.2 377.8,372.6 377.8,373.0 378.3,373.1 378.3,372.1 378.8,372.3 378.8,373.2 379.3,373.3 379.3,372.3 379.8,372.5 379.8,373.2 380.3,372.8 380.3,372.4 380.8,372.7 380.8,373.2 381.3,372.7 381.3,372.5 381.8,371.6 381.8,373.5 382.3,373.3 382.3,373.1 382.8,372.9 382.8,373.8 383.3,373.3 383.3,372.5 383.8,372.9 383.8,373.6 384.3,373.4 384.3,373.0 384.8,372.8 384.8,373.3 385.3,372.8 385.3,372.5 385.8,372.4 385.8,373.3 386.3,373.3 386.3,373.1 386.8,372.9 386.8,373.6 387.3,373.2 387.3,372.8 387.8,372.1 387.8,372.8 388.3,372.5 388.3,371.9 388.8,372.3 388.8,373.3 389.3,372.1 389.3,371.7 389.8,372.3 389.8,372.7 390.3,373.1 390.3,372.6 390.8,372.5 390.8,373.0 391.3,372.9 391.3,372.5 391.8,372.6 391.8,373.1 392.3,373.3 392.3,372.4 392.8,372.8 392.8,373.0 393.3,373.1 393.3,372.8 393.8,372.5 393.8,373.3 394.3,372.7 394.3,372.6 394.8,370.9 394.8,373.4 395.3,372.8 395.3,372.5 395.8,371.7 395.8,372.3 396.3,372.6 396.3,372.2 396.8,373.0 396.8,373.4 397.3,372.9 397.3,372.3 397.8,372.0 397.8,372.3 398.3,372.6 398.3,372.2 398.8,372.1 398.8,372.4 399.3,372.5 399.3,371.6 399.8,372.9 399.8,373.5 400.3,374.1 400.3,373.1 400.8,373.1 400.8,373.1 401.3,373.5 401.3,372.8 401.8,372.5 401.8,373.0 402.3,373.1 402.3,372.4 402.8,372.6 402.8,373.1 403.3,373.0 403.3,372.4 403.8,372.9 403.8,373.6 404.3,372.4 404.3,372.3 404.8,372.2 404.8,372.6 405.3,372.6 405.3,372.2 405.8,371.9 405.8,372.5 406.3,372.2 406.3,372.0 406.8,372.2 406.8,372.7 407.3,372.7 407.3,371.9 407.8,372.5 407.8,372.9 408.3,373.2 408.3,373.0 408.8,372.3 408.8,373.1 409.3,373.1 409.3,372.4 409.8,372.9 409.8,373.5 410.3,373.5 410.3,372.9 410.8,373.3 410.8,373.4 411.3,373.8 411.3,373.2 411.8,372.6 411.8,373.4 412.3,373.3 412.3,373.2 412.8,373.1 412.8,373.5 413.3,373.4 413.3,372.8 413.8,372.9 413.8,373.5 414.3,372.7 414.3,372.4 414.8,372.4 414.8,373.5 415.3,372.9 415.3,372.3 415.8,372.5 415.8,373.7 416.3,373.5 416.3,373.0 416.8,372.4 416.8,374.0 417.3,373.5 417.3,372.8 417.8,372.3 417.8,373.0 418.3,373.3 418.3,373.1 418.8,373.0 418.8,373.5 419.3,373.7 419.3,373.1 419.8,373.6 419.8,374.0 420.3,374.3 420.3,373.1 420.8,372.6 420.8,373.6 421.3,373.7 421.3,373.1 421.8,372.9 421.8,373.4 422.3,373.9 422.3,373.5 422.8,373.5 422.8,373.6 423.3,373.9 423.3,373.2 423.8,374.1 423.8,374.5 424.3,373.5 424.3,372.9 424.8,373.4 424.8,373.7 425.3,373.5 425.3,373.1 425.8,373.1 425.8,373.5 426.3,373.8 426.3,373.3 426.8,373.5 426.8,374.3 427.3,374.0 427.3,373.0 427.8,373.1 427.8,373.5 428.3,373.5 428.3,372.5 428.8,373.0 428.8,373.4 429.3,373.2 429.3,372.9 429.8,372.3 429.8,373.4 430.3,372.8 430.3,372.5 430.8,372.3 430.8,372.9 431.3,372.5 431.3,371.8 431.8,372.6 431.8,373.5 432.3,373.5 432.3,373.2 432.8,372.3 432.8,372.8 433.3,372.9 433.3,372.4 433.8,372.1 433.8,372.9 434.3,372.6 434.3,372.2 434.8,371.9 434.8,372.4 435.3,372.8 435.3,371.7 435.8,372.4 435.8,372.9 436.3,372.9 436.3,372.8 436.8,372.1 436.8,372.5 437.3,372.8 437.3,372.0 437.8,372.2 437.8,372.5 438.3,372.6 438.3,372.0 438.8,372.5 438.8,372.7 439.3,372.6 439.3,372.0 439.8,372.2 439.8,372.8 440.3,372.8 440.3,372.0 440.8,371.4 440.8,372.3 441.3,372.8 441.3,372.0 441.8,373.0 441.8,373.7 442.3,373.0 442.3,372.4 442.8,372.5 442.8,372.7 443.3,373.4 443.3,372.1 443.8,372.4 443.8,373.6 444.3,373.1 444.3,372.7 444.8,372.3 444.8,373.3 445.3,373.3 445.3,372.4 445.8,372.4 445.8,372.7 446.3,372.9 446.3,372.4 446.8,372.7 446.8,372.9 447.3,373.1 447.3,372.6 447.8,372.1 447.8,372.4 448.3,372.6 448.3,372.1 448.8,372.9 448.8,373.3 449.3,373.2 449.3,372.4 449.8,372.5 449.8,373.1 450.3,372.7 450.3,372.6 450.8,371.9 450.8,372.5 451.3,373.5 451.3,372.2 451.8,373.2 451.8,374.3 452.3,373.7 452.3,372.2 452.8,373.0 452.8,374.1 453.3,374.5 453.3,372.4 453.8,373.5 453.8,374.0 454.3,373.9 454.3,372.7 454.8,373.5 454.8,375.3 455.3,373.6 455.3,372.6 455.8,370.0 455.8,374.0 456.3,373.1 456.3,372.7 456.8,370.3 456.8,374.9 457.3,374.2 457.3,372.7 457.8,374.1 457.8,374.9 458.3,374.8 458.3,373.3 458.8,372.1 458.8,373.4 459.3,373.2 459.3,371.3 459.8,372.8 459.8,374.1 460.3,375.5 460.3,371.6 460.8,372.4 460.8,374.8 461.3,377.1 461.3,373.6 461.8,374.9 461.8,379.0 462.3,373.6 462.3,372.6 462.8,371.2 462.8,371.7 463.3,373.7 463.3,372.9 463.8,373.6 463.8,373.9 464.3,375.3 464.3,373.8 464.8,372.5 464.8,374.8 465.3,376.0 465.3,374.6 465.8,374.2 465.8,375.1 466.3,374.9 466.3,373.7 466.8,374.4 466.8,375.0 467.3,374.8 467.3,373.6 467.8,373.3 467.8,379.6 468.3,373.8 468.3,372.7 468.8,371.0 468.8,373.6 469.3,377.4 469.3,372.2 469.8,372.0 469.8,372.2 470.3,372.5 470.3,371.7 470.8,372.1 470.8,373.5 471.3,372.7 471.3,371.3 471.8,372.4 471.8,374.2 472.3,375.0 472.3,372.4 472.8,371.7 472.8,374.0 473.3,374.8 473.3,372.9 473.8,374.8 473.8,375.4 474.3,375.7 474.3,374.6 474.8,373.2 474.8,374.5 475.3,375.2 475.3,374.7 475.8,373.8 475.8,375.6 476.3,374.8 476.3,374.1 476.8,372.7 476.8,373.4 477.3,373.7 477.3,372.7 477.8,372.6 477.8,374.3 478.3,374.6 478.3,373.4 478.8,373.2 478.8,373.4 479.3,374.6 479.3,373.1 479.8,372.8 479.8,373.8 480.3,374.6 480.3,373.1 480.8,371.5 480.8,373.2 481.3,372.9 481.3,372.5 481.8,372.9 481.8,374.0 482.3,373.0 482.3,372.3 482.8,370.9 482.8,373.0 483.3,372.3 483.3,371.0 483.8,371.4 483.8,372.2 484.3,372.1 484.3,371.3 484.8,371.9 484.8,374.2 485.3,373.0 485.3,371.9 485.8,371.6 485.8,372.8 486.3,372.6 486.3,372.2 486.8,373.4 486.8,374.2 487.3,374.4 487.3,373.2 487.8,372.0 487.8,373.5 488.3,373.4 488.3,373.1 488.8,372.4 488.8,373.8 489.3,374.3 489.3,373.4 489.8,373.8 489.8,375.2 490.3,374.7 490.3,374.2 490.8,373.8 490.8,374.6 491.3,373.0 491.3,372.6 491.8,372.3 491.8,372.9 492.3,373.1 492.3,372.3 492.8,370.5 492.8,373.4 493.3,373.8 493.3,373.2 493.8,372.2 493.8,374.4 494.3,373.1 494.3,372.3 494.8,372.4 494.8,373.2 495.3,373.6 495.3,371.4 495.8,372.3 495.8,372.9 496.3,373.1 496.3,371.3 496.8,370.6 496.8,372.2 497.3,372.8 497.3,372.5 497.8,372.0 497.8,373.1 498.3,372.1 498.3,371.7 498.8,371.5 498.8,371.9 499.3,373.0 499.3,372.0 499.8,371.5 499.8,372.7 500.3,373.7 500.3,371.6 500.8,371.7 500.8,373.9 501.3,373.7 501.3,372.3 501.8,373.1 501.8,374.1 502.3,374.0 502.3,371.8 502.8,373.2 502.8,374.7 503.3,374.0 503.3,373.0 503.8,374.0 503.8,375.6 504.3,374.9 504.3,372.0 504.8,373.6 504.8,375.3 505.3,374.2 505.3,373.5 505.8,371.7 505.8,374.2 506.3,375.0 506.3,373.1 506.8,372.4 506.8,374.2 507.3,372.5 507.3,371.5 507.8,371.3 507.8,372.2 508.3,372.4 508.3,370.3 508.8,370.8 508.8,371.8 509.3,372.0 509.3,370.3 509.8,371.2 509.8,371.6 510.3,372.3 510.3,371.1 510.8,371.9 510.8,372.9 511.3,373.0 511.3,372.7 511.8,371.5 511.8,373.3 512.3,373.8 512.3,373.2 512.8,371.3 512.8,374.1 513.3,374.0 513.3,373.5 513.8,372.7 513.8,372.8 514.3,374.3 514.3,373.7 514.8,373.0 514.8,374.2 515.3,375.7 515.3,374.0" stroke="#233a8a" stroke-width="0.9"/><path d="M42.1,373.0 L42.3,367.5 L42.5,373.0 M43.3,373.0 L43.5,387.7 L43.7,373.0 M44.0,373.0 L44.2,384.0 L44.4,373.0 M45.8,373.0 L46.0,369.5 L46.2,373.0 M47.8,373.0 L48.0,376.5 L48.2,373.0 M53.3,373.0 L53.5,368.9 L53.7,373.0 M54.8,373.0 L55.0,369.0 L55.2,373.0 M57.8,373.0 L58.0,370.5 L58.2,373.0 M186.8,373.0 L187.0,365.4 L187.2,373.0 M187.8,373.0 L188.0,379.0 L188.2,373.0 M190.3,373.0 L190.5,367.0 L190.7,373.0 M193.3,373.0 L193.5,364.4 L193.7,373.0 M195.3,373.0 L195.5,386.4 L195.7,373.0 M196.8,373.0 L197.0,369.0 L197.2,373.0 M202.4,373.0 L202.6,379.0 L202.8,373.0 M204.8,373.0 L205.0,366.4 L205.2,373.0 M206.8,373.0 L207.0,377.0 L207.2,373.0 M210.8,373.0 L211.0,368.5 L211.2,373.0 M215.8,373.0 L216.0,369.5 L216.2,373.0 M223.8,373.0 L224.0,366.4 L224.2,373.0 M228.8,373.0 L229.0,369.0 L229.2,373.0 M235.8,373.0 L236.0,368.5 L236.2,373.0 M239.8,373.0 L240.0,376.5 L240.2,373.0 M244.8,373.0 L245.0,366.4 L245.2,373.0 M251.8,373.0 L252.0,368.5 L252.2,373.0 M262.1,373.0 L262.3,360.5 L262.5,373.0 M262.6,373.0 L262.8,376.2 L263.0,373.0 M267.9,373.0 L268.1,367.5 L268.3,373.0 M270.5,373.0 L270.7,366.6 L270.9,373.0 M271.3,373.0 L271.5,377.0 L271.7,373.0 M273.2,373.0 L273.4,368.9 L273.6,373.0 M276.3,373.0 L276.5,376.2 L276.7,373.0 M281.1,373.0 L281.3,369.0 L281.5,373.0 M281.6,373.0 L281.8,378.0 L282.0,373.0 M285.8,373.0 L286.0,366.6 L286.2,373.0 M286.4,373.0 L286.6,380.6 L286.8,373.0 M309.3,373.0 L309.5,370.6 L309.7,373.0 M309.8,373.0 L310.0,375.9 L310.2,373.0 M317.8,373.0 L318.0,377.0 L318.2,373.0 M328.8,373.0 L329.0,369.2 L329.2,373.0 M330.8,373.0 L331.0,363.1 L331.2,373.0 M331.4,373.0 L331.6,377.0 L331.8,373.0 M333.8,373.0 L334.0,368.4 L334.2,373.0 M334.4,373.0 L334.6,376.0 L334.8,373.0 M336.8,373.0 L337.0,378.8 L337.2,373.0 M339.8,373.0 L340.0,368.4 L340.2,373.0 M340.4,373.0 L340.6,380.6 L340.8,373.0 M343.8,373.0 L344.0,369.0 L344.2,373.0 M344.4,373.0 L344.6,376.0 L344.8,373.0 M454.5,373.0 L454.7,364.0 L454.9,373.0 M455.0,373.0 L455.2,380.0 L455.4,373.0 M456.8,373.0 L457.0,365.4 L457.2,373.0 M458.3,373.0 L458.5,357.7 L458.7,373.0 M459.8,373.0 L460.0,377.3 L460.2,373.0 M461.1,373.0 L461.3,383.6 L461.5,373.0 M462.8,373.0 L463.0,368.9 L463.2,373.0 M465.8,373.0 L466.0,369.6 L466.2,373.0 M469.8,373.0 L470.0,368.2 L470.2,373.0 M479.8,373.0 L480.0,370.3 L480.2,373.0 M493.8,373.0 L494.0,370.3 L494.2,373.0 M504.8,373.0 L505.0,367.5 L505.2,373.0 M507.8,373.0 L508.0,370.0 L508.2,373.0" stroke="#3c58a8" stroke-width="0.6"/></g><path d="M200.6,167 L200.6,276" stroke="#3a50a0" stroke-width="0.8" fill="none"/><path d="M199.6,371 L200.3,402 L201.2,371 Z M200.2,375 L201.2,341.3 L202.3,375 Z" fill="#2a3f8e" stroke="#2a3f8e" stroke-width="0.6"/><rect x="198" y="27.2" width="4.4" height="518" fill="#d46a93" fill-opacity="0.5"/><g shape-rendering="crispEdges"><rect x="198" y="433.4" width="4.4" height="3.900000000000034" fill="#a0a8c8"/><rect x="198" y="437.3" width="4.4" height="2.6999999999999886" fill="#b8b0bc"/><rect x="198" y="440" width="4.4" height="20.5" fill="#e0a86a"/><rect x="198" y="460.5" width="4.4" height="13.300000000000011" fill="#e8a062"/><rect x="198" y="473.8" width="4.4" height="5.199999999999989" fill="#e0a86a"/><rect x="198" y="479" width="4.4" height="4" fill="#b8b094"/><rect x="198" y="483" width="4.4" height="8" fill="#a8a8c8"/><rect x="198" y="491" width="4.4" height="8" fill="#6c54a0"/><rect x="198" y="499" width="4.4" height="2.5" fill="#9078b0"/></g><rect x="42.0" y="27.2" width="473.70000000000005" height="125.60000000000001" fill="none" stroke="#9a9a9a" stroke-width="1.4"/><rect x="42.0" y="157.9" width="473.70000000000005" height="126.6" fill="none" stroke="#9a9a9a" stroke-width="1.4"/><rect x="42.0" y="289.2" width="473.70000000000005" height="126.0" fill="none" stroke="#9a9a9a" stroke-width="1.4"/><path d="M160.43,27.2 v4 M160.43,152.8 v-4 M278.85,27.2 v4 M278.85,152.8 v-4 M397.28,27.2 v4 M397.28,152.8 v-4 M160.43,157.9 v4 M160.43,284.5 v-4 M278.85,157.9 v4 M278.85,284.5 v-4 M397.28,157.9 v4 M397.28,284.5 v-4 M160.43,289.2 v4 M160.43,415.2 v-4 M278.85,289.2 v4 M278.85,415.2 v-4 M397.28,289.2 v4 M397.28,415.2 v-4 M160.43,420.4 v4 M160.43,545.3 v-4 M278.85,420.4 v4 M278.85,545.3 v-4 M397.28,420.4 v4 M397.28,545.3 v-4" stroke="#666" stroke-width="0.8" fill="none"/><path d="M42.0,48.13 h4 M42.0,69.07 h4 M42.0,90.00 h4 M42.0,110.93 h4 M42.0,131.87 h4" stroke="#888" stroke-width="0.8" fill="none"/><path d="M515.7,127.68 h-4 M515.7,102.56 h-4 M515.7,77.44 h-4 M515.7,52.32 h-4" stroke="#888" stroke-width="0.8" fill="none"/><path d="M42.0,183.22 h4 M515.7,183.22 h-4 M42.0,208.54 h4 M515.7,208.54 h-4 M42.0,233.86 h4 M515.7,233.86 h-4 M42.0,259.18 h4 M515.7,259.18 h-4" stroke="#888" stroke-width="0.8" fill="none"/><path d="M42.0,310.20 h4 M515.7,310.20 h-4 M42.0,331.20 h4 M515.7,331.20 h-4 M42.0,352.20 h4 M515.7,352.20 h-4 M42.0,373.20 h4 M515.7,373.20 h-4 M42.0,394.20 h4 M515.7,394.20 h-4" stroke="#888" stroke-width="0.8" fill="none"/><path d="M42.0,537.91 h2.2 M515.7,537.91 h-2.2 M42.0,532.95 h2.2 M515.7,532.95 h-2.2 M42.0,529.42 h2.2 M515.7,529.42 h-2.2 M42.0,526.69 h2.2 M515.7,526.69 h-2.2 M42.0,524.46 h2.2 M515.7,524.46 h-2.2 M42.0,522.57 h2.2 M515.7,522.57 h-2.2 M42.0,520.93 h2.2 M515.7,520.93 h-2.2 M42.0,519.49 h2.2 M515.7,519.49 h-2.2 M42.0,518.20 h4 M515.7,518.20 h-4 M42.0,509.71 h2.2 M515.7,509.71 h-2.2 M42.0,504.75 h2.2 M515.7,504.75 h-2.2 M42.0,501.22 h2.2 M515.7,501.22 h-2.2 M42.0,498.49 h2.2 M515.7,498.49 h-2.2 M42.0,496.26 h2.2 M515.7,496.26 h-2.2 M42.0,494.37 h2.2 M515.7,494.37 h-2.2 M42.0,492.73 h2.2 M515.7,492.73 h-2.2 M42.0,491.29 h2.2 M515.7,491.29 h-2.2 M42.0,490.00 h4 M515.7,490.00 h-4 M42.0,481.51 h2.2 M515.7,481.51 h-2.2 M42.0,476.55 h2.2 M515.7,476.55 h-2.2 M42.0,473.02 h2.2 M515.7,473.02 h-2.2 M42.0,470.29 h2.2 M515.7,470.29 h-2.2 M42.0,468.06 h2.2 M515.7,468.06 h-2.2 M42.0,466.17 h2.2 M515.7,466.17 h-2.2 M42.0,464.53 h2.2 M515.7,464.53 h-2.2 M42.0,463.09 h2.2 M515.7,463.09 h-2.2 M42.0,461.80 h4 M515.7,461.80 h-4 M42.0,453.31 h2.2 M515.7,453.31 h-2.2 M42.0,448.35 h2.2 M515.7,448.35 h-2.2 M42.0,444.82 h2.2 M515.7,444.82 h-2.2 M42.0,442.09 h2.2 M515.7,442.09 h-2.2 M42.0,439.86 h2.2 M515.7,439.86 h-2.2 M42.0,437.97 h2.2 M515.7,437.97 h-2.2 M42.0,436.33 h2.2 M515.7,436.33 h-2.2 M42.0,434.89 h2.2 M515.7,434.89 h-2.2 M42.0,433.60 h4 M515.7,433.60 h-4 M42.0,425.11 h2.2 M515.7,425.11 h-2.2" stroke="#222" stroke-width="0.8" fill="none"/><text transform="translate(39.50,32.10) scale(1,1.12)" font-size="9.2" text-anchor="end" font-weight="bold" fill="#111" >0</text><text transform="translate(39.50,53.03) scale(1,1.12)" font-size="9.2" text-anchor="end" font-weight="bold" fill="#111" >−5</text><text transform="translate(39.50,73.97) scale(1,1.12)" font-size="9.2" text-anchor="end" font-weight="bold" fill="#111" >−10</text><text transform="translate(39.50,94.90) scale(1,1.12)" font-size="9.2" text-anchor="end" font-weight="bold" fill="#111" >−15</text><text transform="translate(39.50,115.83) scale(1,1.12)" font-size="9.2" text-anchor="end" font-weight="bold" fill="#111" >−20</text><text transform="translate(39.50,136.77) scale(1,1.12)" font-size="9.2" text-anchor="end" font-weight="bold" fill="#111" >−25</text><text transform="translate(39.50,157.70) scale(1,1.12)" font-size="9.2" text-anchor="end" font-weight="bold" fill="#111" >−30</text><text transform="translate(39.50,162.80) scale(1,1.12)" font-size="9.2" text-anchor="end" font-weight="bold" fill="#111" >15</text><text transform="translate(39.50,188.12) scale(1,1.12)" font-size="9.2" text-anchor="end" font-weight="bold" fill="#111" >10</text><text transform="translate(39.50,213.44) scale(1,1.12)" font-size="9.2" text-anchor="end" font-weight="bold" fill="#111" >5</text><text transform="translate(39.50,238.76) scale(1,1.12)" font-size="9.2" text-anchor="end" font-weight="bold" fill="#111" >0</text><text transform="translate(39.50,264.08) scale(1,1.12)" font-size="9.2" text-anchor="end" font-weight="bold" fill="#111" >−5</text><text transform="translate(39.50,289.40) scale(1,1.12)" font-size="9.2" text-anchor="end" font-weight="bold" fill="#111" >−10</text><text transform="translate(39.50,294.10) scale(1,1.12)" font-size="9.2" text-anchor="end" font-weight="bold" fill="#111" >2</text><text transform="translate(39.50,315.10) scale(1,1.12)" font-size="9.2" text-anchor="end" font-weight="bold" fill="#111" >1.5</text><text transform="translate(39.50,336.10) scale(1,1.12)" font-size="9.2" text-anchor="end" font-weight="bold" fill="#111" >1</text><text transform="translate(39.50,357.10) scale(1,1.12)" font-size="9.2" text-anchor="end" font-weight="bold" fill="#111" >0.5</text><text transform="translate(39.50,378.10) scale(1,1.12)" font-size="9.2" text-anchor="end" font-weight="bold" fill="#111" >0</text><text transform="translate(39.50,399.10) scale(1,1.12)" font-size="9.2" text-anchor="end" font-weight="bold" fill="#111" >−0.5</text><text transform="translate(39.50,420.10) scale(1,1.12)" font-size="9.2" text-anchor="end" font-weight="bold" fill="#111" >−1</text><text transform="translate(518.80,157.50) scale(1,1.12)" font-size="9.0" text-anchor="start" font-weight="bold" fill="#111" >0</text><text transform="translate(518.80,132.38) scale(1,1.12)" font-size="9.0" text-anchor="start" font-weight="bold" fill="#111" >200</text><text transform="translate(518.80,107.26) scale(1,1.12)" font-size="9.0" text-anchor="start" font-weight="bold" fill="#111" >400</text><text transform="translate(518.80,82.14) scale(1,1.12)" font-size="9.0" text-anchor="start" font-weight="bold" fill="#111" >600</text><text transform="translate(518.80,57.02) scale(1,1.12)" font-size="9.0" text-anchor="start" font-weight="bold" fill="#111" >800</text><text transform="translate(518.80,31.90) scale(1,1.12)" font-size="9.0" text-anchor="start" font-weight="bold" fill="#111" >1000</text><text x="34.60" y="437.00" font-size="9.5" text-anchor="end" font-weight="bold" fill="#111" >10</text><text x="34.90" y="431.00" font-size="6.5" text-anchor="start" font-weight="bold" fill="#111" >4</text><text x="34.60" y="465.20" font-size="9.5" text-anchor="end" font-weight="bold" fill="#111" >10</text><text x="34.90" y="459.20" font-size="6.5" text-anchor="start" font-weight="bold" fill="#111" >3</text><text x="34.60" y="493.40" font-size="9.5" text-anchor="end" font-weight="bold" fill="#111" >10</text><text x="34.90" y="487.40" font-size="6.5" text-anchor="start" font-weight="bold" fill="#111" >2</text><text x="34.60" y="521.60" font-size="9.5" text-anchor="end" font-weight="bold" fill="#111" >10</text><text x="34.90" y="515.60" font-size="6.5" text-anchor="start" font-weight="bold" fill="#111" >1</text><text transform="translate(42.00,557.00) scale(1,1.1)" font-size="9" text-anchor="middle" font-weight="bold" fill="#111" >13:24:00</text><text transform="translate(160.43,557.00) scale(1,1.1)" font-size="9" text-anchor="middle" font-weight="bold" fill="#111" >13:25:30</text><text transform="translate(278.85,557.00) scale(1,1.1)" font-size="9" text-anchor="middle" font-weight="bold" fill="#111" >13:27:00</text><text transform="translate(397.28,557.00) scale(1,1.1)" font-size="9" text-anchor="middle" font-weight="bold" fill="#111" >13:28:30</text><text transform="translate(515.70,557.00) scale(1,1.1)" font-size="9" text-anchor="middle" font-weight="bold" fill="#111" >13:30:00</text><text transform="translate(277.65,571.40) scale(1,1.12)" font-size="8.8" text-anchor="middle" font-weight="bold" fill="#111" >Time [UT]</text><text x="213.50" y="10.20" font-size="12.5" text-anchor="middle" font-weight="bold" fill="#111" >Alfvén Resonance</text><path d="M200.3,11.5 V20" stroke="#111" stroke-width="1.1"/><path d="M197.6,18.2 L203,18.2 L200.3,25.8 Z" fill="#111"/><text transform="translate(13.20,90.30) rotate(-90)" font-size="9" text-anchor="middle" font-weight="bold" fill="#111">B<tspan font-size="6.8" dy="4.6">L</tspan><tspan dy="-4.6"> (nT)</tspan></text><text transform="translate(13.20,221.20) rotate(-90)" font-size="9" text-anchor="middle" font-weight="bold" fill="#111">E<tspan font-size="6.8" dy="4.6">M</tspan><tspan dy="-4.6"> (mV/m)</tspan></text><text transform="translate(12.00,351.50) rotate(-90)" font-size="9" text-anchor="middle" font-weight="bold" fill="#111">−δ S<tspan font-size="6.5" dy="3.6">N</tspan><tspan dy="-3.6"> (10</tspan><tspan font-size="6" dy="-5.2">−5</tspan><tspan dy="5.2"> W/m</tspan><tspan font-size="6" dy="-5.2">2</tspan><tspan dy="5.2">)</tspan></text><text transform="translate(7.60,482.80) rotate(-90)" font-size="9" text-anchor="middle" font-weight="bold" fill="#111">IONS [OMNIDIR</text><text transform="translate(17.80,482.40) rotate(-90)" font-size="9" text-anchor="middle" font-weight="bold" fill="#111">E (eV)</text><text transform="translate(547.50,90.50) rotate(-90)" font-size="9" text-anchor="middle" font-weight="bold" fill="#d42a2a">v<tspan font-size="6.8" dy="4.6">A</tspan><tspan dy="-4.6"> (km/2)</tspan></text><linearGradient id="cb" x1="0" y1="0" x2="0" y2="1"><stop offset="0" stop-color="#a82a2a"/><stop offset="0.06" stop-color="#b82a2a"/><stop offset="0.12" stop-color="#d8302a"/><stop offset="0.2" stop-color="#dc3a28"/><stop offset="0.28" stop-color="#e85a28"/><stop offset="0.33" stop-color="#f08030"/><stop offset="0.37" stop-color="#f0a028"/><stop offset="0.41" stop-color="#f8c828"/><stop offset="0.45" stop-color="#f0e020"/><stop offset="0.5" stop-color="#d0d830"/><stop offset="0.55" stop-color="#b0cc48"/><stop offset="0.6" stop-color="#90c070"/><stop offset="0.64" stop-color="#78c0a0"/><stop offset="0.68" stop-color="#60bcc8"/><stop offset="0.72" stop-color="#48b4e0"/><stop offset="0.76" stop-color="#3a78c0"/><stop offset="0.8" stop-color="#3460aa"/><stop offset="0.86" stop-color="#2e4a98"/><stop offset="0.93" stop-color="#2a3c8c"/><stop offset="1" stop-color="#1e2878"/></linearGradient><rect x="518.8" y="422" width="12" height="123.3" fill="url(#cb)"/><rect x="518.8" y="420.4" width="12" height="2" fill="#222"/><rect x="518.8" y="420.4" width="12" height="124.9" fill="none" stroke="#777" stroke-width="0.8"/><text transform="translate(533.00,433.90) scale(1,1.12)" font-size="9.2" text-anchor="start" font-weight="bold" fill="#111" >7</text><path d="M518.8,430.3 h2 M530.8,430.3 h-2" stroke="#333" stroke-width="0.7"/><text transform="translate(533.00,464.60) scale(1,1.12)" font-size="9.2" text-anchor="start" font-weight="bold" fill="#111" >6</text><path d="M518.8,461 h2 M530.8,461 h-2" stroke="#333" stroke-width="0.7"/><text transform="translate(533.00,494.60) scale(1,1.12)" font-size="9.2" text-anchor="start" font-weight="bold" fill="#111" >5</text><path d="M518.8,491 h2 M530.8,491 h-2" stroke="#333" stroke-width="0.7"/><text transform="translate(533.00,524.60) scale(1,1.12)" font-size="9.2" text-anchor="start" font-weight="bold" fill="#111" >4</text><path d="M518.8,521 h2 M530.8,521 h-2" stroke="#333" stroke-width="0.7"/><text transform="translate(551.30,483.50) rotate(-90)" font-size="9" text-anchor="middle" font-weight="bold" fill="#111">log<tspan font-size="6.5" dy="4.5">10</tspan></text><text transform="translate(567.60,486.80) rotate(-90)" font-size="9" text-anchor="middle" font-weight="bold" fill="#111">[keV/(cm<tspan font-size="6" dy="-4.3">2</tspan><tspan dy="4.3"> s sr keV)]</tspan></text></svg></body></html>
